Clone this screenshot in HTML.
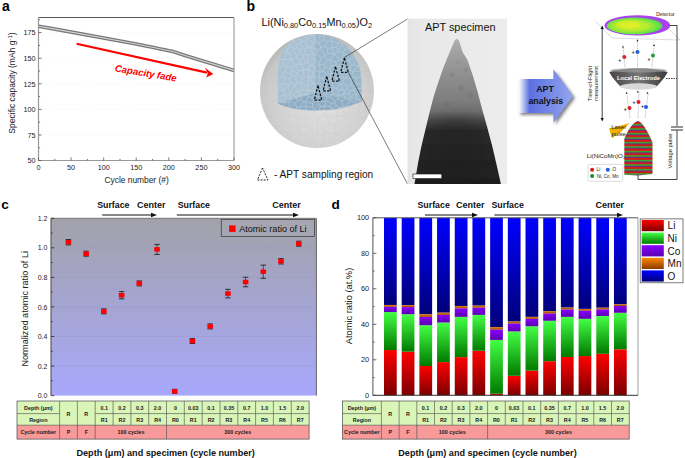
<!DOCTYPE html>
<html><head><meta charset="utf-8"><style>
html,body{margin:0;padding:0;background:#fff;width:685px;height:458px;overflow:hidden}
svg{display:block;font-family:"Liberation Sans", sans-serif}
</style></head><body>
<svg width="685" height="458" viewBox="0 0 685 458" font-family='"Liberation Sans", sans-serif'>
<text x="2" y="10.5" font-size="14" font-weight="bold">a</text>
<line x1="38.5" x2="234.0" y1="135.0" y2="135.0" stroke="#f3f3f3" stroke-width="0.6" stroke-dasharray="1.5,1"/>
<line x1="38.5" x2="234.0" y1="109.4" y2="109.4" stroke="#f3f3f3" stroke-width="0.6" stroke-dasharray="1.5,1"/>
<line x1="38.5" x2="234.0" y1="83.8" y2="83.8" stroke="#f3f3f3" stroke-width="0.6" stroke-dasharray="1.5,1"/>
<line x1="38.5" x2="234.0" y1="58.2" y2="58.2" stroke="#f3f3f3" stroke-width="0.6" stroke-dasharray="1.5,1"/>
<line x1="38.5" x2="234.0" y1="32.6" y2="32.6" stroke="#f3f3f3" stroke-width="0.6" stroke-dasharray="1.5,1"/>
<line x1="38.5" x2="234.0" y1="17.5" y2="17.5" stroke="#555" stroke-width="1"/>
<line x1="234.0" x2="234.0" y1="17.5" y2="160.5" stroke="#aaa" stroke-width="1.3"/>
<line x1="38.5" x2="38.5" y1="17.5" y2="160.5" stroke="#999" stroke-width="1.2"/>
<line x1="38.5" x2="234.0" y1="160.5" y2="160.5" stroke="#999" stroke-width="1.2"/>
<line x1="38.5" x2="41.5" y1="160.6" y2="160.6" stroke="#555" stroke-width="0.8"/>
<text x="35.5" y="163.3" font-size="7.25" text-anchor="end" fill="#222">50</text>
<line x1="38.5" x2="41.5" y1="135.0" y2="135.0" stroke="#555" stroke-width="0.8"/>
<text x="35.5" y="137.7" font-size="7.25" text-anchor="end" fill="#222">75</text>
<line x1="38.5" x2="41.5" y1="109.4" y2="109.4" stroke="#555" stroke-width="0.8"/>
<text x="35.5" y="112.1" font-size="7.25" text-anchor="end" fill="#222">100</text>
<line x1="38.5" x2="41.5" y1="83.8" y2="83.8" stroke="#555" stroke-width="0.8"/>
<text x="35.5" y="86.5" font-size="7.25" text-anchor="end" fill="#222">125</text>
<line x1="38.5" x2="41.5" y1="58.2" y2="58.2" stroke="#555" stroke-width="0.8"/>
<text x="35.5" y="60.9" font-size="7.25" text-anchor="end" fill="#222">150</text>
<line x1="38.5" x2="41.5" y1="32.6" y2="32.6" stroke="#555" stroke-width="0.8"/>
<text x="35.5" y="35.3" font-size="7.25" text-anchor="end" fill="#222">175</text>
<line x1="38.5" x2="40.1" y1="147.8" y2="147.8" stroke="#555" stroke-width="0.8"/>
<line x1="38.5" x2="40.1" y1="122.2" y2="122.2" stroke="#555" stroke-width="0.8"/>
<line x1="38.5" x2="40.1" y1="96.6" y2="96.6" stroke="#555" stroke-width="0.8"/>
<line x1="38.5" x2="40.1" y1="71.0" y2="71.0" stroke="#555" stroke-width="0.8"/>
<line x1="38.5" x2="40.1" y1="45.4" y2="45.4" stroke="#555" stroke-width="0.8"/>
<line x1="38.5" x2="40.1" y1="19.8" y2="19.8" stroke="#555" stroke-width="0.8"/>
<line x1="38.5" x2="38.5" y1="160.5" y2="157.5" stroke="#555" stroke-width="0.8"/>
<text x="38.5" y="170.1" font-size="7.25" text-anchor="middle" fill="#222">0</text>
<line x1="71.1" x2="71.1" y1="160.5" y2="157.5" stroke="#555" stroke-width="0.8"/>
<text x="71.1" y="170.1" font-size="7.25" text-anchor="middle" fill="#222">50</text>
<line x1="103.7" x2="103.7" y1="160.5" y2="157.5" stroke="#555" stroke-width="0.8"/>
<text x="103.7" y="170.1" font-size="7.25" text-anchor="middle" fill="#222">100</text>
<line x1="136.2" x2="136.2" y1="160.5" y2="157.5" stroke="#555" stroke-width="0.8"/>
<text x="136.2" y="170.1" font-size="7.25" text-anchor="middle" fill="#222">150</text>
<line x1="168.8" x2="168.8" y1="160.5" y2="157.5" stroke="#555" stroke-width="0.8"/>
<text x="168.8" y="170.1" font-size="7.25" text-anchor="middle" fill="#222">200</text>
<line x1="201.4" x2="201.4" y1="160.5" y2="157.5" stroke="#555" stroke-width="0.8"/>
<text x="201.4" y="170.1" font-size="7.25" text-anchor="middle" fill="#222">250</text>
<line x1="234.0" x2="234.0" y1="160.5" y2="157.5" stroke="#555" stroke-width="0.8"/>
<text x="234.0" y="170.1" font-size="7.25" text-anchor="middle" fill="#222">300</text>
<line x1="54.8" x2="54.8" y1="160.5" y2="158.9" stroke="#555" stroke-width="0.8"/>
<line x1="87.4" x2="87.4" y1="160.5" y2="158.9" stroke="#555" stroke-width="0.8"/>
<line x1="120.0" x2="120.0" y1="160.5" y2="158.9" stroke="#555" stroke-width="0.8"/>
<line x1="152.5" x2="152.5" y1="160.5" y2="158.9" stroke="#555" stroke-width="0.8"/>
<line x1="185.1" x2="185.1" y1="160.5" y2="158.9" stroke="#555" stroke-width="0.8"/>
<line x1="217.7" x2="217.7" y1="160.5" y2="158.9" stroke="#555" stroke-width="0.8"/>
<text x="136.6" y="183.0" font-size="8.4" text-anchor="middle" fill="#222">Cycle number (#)</text>
<text transform="translate(14.6,83) rotate(-90)" font-size="8.5" text-anchor="middle" fill="#222">Specific capacity (mAh g<tspan dy="-3" font-size="6">-1</tspan><tspan dy="3">)</tspan></text>
<path d="M38.5,26.2 C75,32.6 115,39.8 135,43.7 C150,46.8 160,48.8 170,51.0 L171.5,51.1 L185,55.5 L234,70.4" fill="none" stroke="#787878" stroke-width="3.7"/>
<path d="M38.5,26.2 C75,32.6 115,39.8 135,43.7 C150,46.8 160,48.8 170,51.0 L171.5,51.1 L185,55.5 L234,70.4" fill="none" stroke="#d4d4d4" stroke-width="1.1"/>
<line x1="76.6" y1="43.8" x2="207" y2="72.6" stroke="#f00" stroke-width="2.1"/>
<path d="M213.3,73.9 L206.3,77.6 L207.8,73.0 L204.8,67.8 Z" fill="#f00"/>
<text transform="translate(114.5,71.3) rotate(9.5)" font-size="9.6" font-weight="bold" font-style="italic" fill="#f00">Capacity fade</text>
<text x="246.5" y="10.5" font-size="14" font-weight="bold">b</text>
<text x="261.5" y="26.2" font-size="10.85" fill="#111">Li(Ni<tspan dy="2.2" font-size="7.4">0.80</tspan><tspan dy="-2.2">Co</tspan><tspan dy="2.2" font-size="7.4">0.15</tspan><tspan dy="-2.2">Mn</tspan><tspan dy="2.2" font-size="7.4">0.05</tspan><tspan dy="-2.2">)O</tspan><tspan dy="2.2" font-size="7.4">2</tspan></text>
<defs><radialGradient id="sph" cx="0.53" cy="0.62" r="0.6"><stop offset="0" stop-color="#e0e0e0"/><stop offset="0.6" stop-color="#d3d3d3"/><stop offset="0.88" stop-color="#c8c8c8"/><stop offset="1" stop-color="#bababa"/></radialGradient><linearGradient id="bl1" x1="0" y1="0" x2="1" y2="0"><stop offset="0" stop-color="#9fb9cc"/><stop offset="1" stop-color="#a9c0d1"/></linearGradient><linearGradient id="bl2" x1="0" y1="0" x2="1" y2="0"><stop offset="0" stop-color="#8eabc2"/><stop offset="1" stop-color="#86a6bf"/></linearGradient></defs>
<circle cx="317" cy="91" r="57" fill="url(#sph)"/>
<defs><clipPath id="sphc"><circle cx="317" cy="91" r="56.5"/></clipPath><clipPath id="bluc"><path d="M315,34.5 C300,35 288,41 283,50 C279,58 277.8,70 277.6,80 L277.6,103.6 L315,93 Z"/><path d="M315,34.5 C328,34.8 340,40 347,47 C354,54 358.5,62 360.5,72 C361.8,82 362,92 362,101 L315,93 Z"/><path d="M277.6,103.6 L315,93 L362,101 C350,107.5 332,110.8 314,110.5 C298,110.2 286,107.8 277.6,103.6 Z"/></clipPath></defs>
<path d="M257.9,82.4L245.6,78.1M257.9,82.4L256.8,75.5M255.8,89.6L258.2,82.9M258.2,82.9L257.9,82.4M258.2,82.9L265.9,80.9M265.9,80.9L264.3,72.4M264.3,72.4L256.8,75.5M253.8,65.6L264.4,66.9M264.4,66.9L264.9,70.9M264.9,70.9L264.3,72.4M332.1,54.3L332.5,63.1M332.1,54.3L332.9,53.8M342.2,61.5L332.5,63.1M342.2,61.5L343.5,59.1M332.9,53.8L343.5,59.1M336.7,115.5L337.0,116.2M336.7,115.5L337.2,109.5M346.7,116.6L337.0,116.2M346.7,116.6L340.1,107.8M337.2,109.5L340.1,107.8M325.1,114.8L326.8,107.1M325.1,114.8L327.4,116.8M326.8,107.1L331.0,107.5M336.7,115.5L327.4,116.8M337.2,109.5L331.0,107.5M309.1,51.8L309.5,51.8M309.1,51.8L305.4,56.0M309.5,51.8L317.9,57.1M305.4,56.0L308.9,63.8M308.9,63.8L317.8,61.1M317.9,57.1L317.8,61.1M325.1,65.6L325.1,65.6M325.1,65.6L331.8,64.1M332.1,54.3L326.5,52.9M331.8,64.1L332.5,63.1M326.5,52.9L325.1,65.6M308.4,71.9L308.6,64.3M308.4,71.9L308.4,71.9M315.4,72.2L308.4,71.9M315.4,72.2L320.3,63.9M308.6,64.3L308.9,63.8M317.8,61.1L320.3,63.9M317.5,46.0L323.5,44.9M317.5,46.0L318.3,56.5M325.5,52.4L318.3,56.5M325.5,52.4L324.4,46.7M324.4,46.7L323.5,44.9M309.5,51.8L315.4,45.5M315.4,45.5L317.5,46.0M317.9,57.1L318.3,56.5M326.5,52.9L325.5,52.4M320.3,63.9L325.1,65.6M265.9,80.9L266.3,81.1M275.3,74.1L273.2,82.3M275.3,74.1L264.9,70.9M266.3,81.1L273.2,82.3M308.4,71.9L299.8,74.5M308.4,71.9L311.2,82.0M311.2,82.0L305.0,84.2M305.0,84.2L300.2,84.4M299.0,75.6L299.8,74.5M299.0,75.6L298.7,81.9M298.7,81.9L300.2,84.4M348.2,58.5L344.2,58.5M348.2,58.5L354.0,66.4M342.2,61.5L344.0,67.5M354.0,66.4L352.1,68.2M343.5,59.1L344.2,58.5M352.1,68.2L344.0,67.5M379.6,84.3L375.2,92.0M378.5,96.6L375.2,92.0M378.7,98.2L375.0,102.8M375.7,107.2L375.0,102.8M375.7,107.2L367.9,111.0M367.9,111.0L369.5,114.2M369.5,114.2L377.3,116.8M334.3,38.3L328.9,38.4M334.3,38.3L334.6,35.3M325.3,27.4L328.9,38.4M331.1,27.5L334.6,35.3M315.4,72.2L318.0,75.2M311.2,82.0L314.8,83.4M318.0,75.2L314.8,83.4M333.8,98.1L327.2,100.4M333.8,98.1L333.2,91.3M327.2,100.4L327.9,92.4M327.9,92.4L333.2,91.3M325.1,114.8L317.2,118.3M329.4,123.1L327.4,116.8M329.4,123.1L324.6,126.3M317.2,118.3L317.3,121.8M317.3,121.8L324.6,126.3M327.2,100.4L325.0,103.2M318.0,89.7L320.6,100.1M318.0,89.7L323.9,89.7M327.9,92.4L323.9,89.7M320.6,100.1L325.0,103.2M326.8,107.1L325.5,105.1M333.8,98.1L336.0,99.2M331.0,107.5L336.0,99.2M325.0,103.2L325.5,105.1M311.1,92.3L302.5,92.0M311.1,92.3L312.0,92.7M312.0,92.7L309.6,100.0M309.6,100.0L301.5,96.9M301.5,96.9L302.5,92.0M305.0,84.2L311.1,92.3M300.2,84.4L300.1,85.4M300.1,85.4L302.5,92.0M317.8,89.6L312.0,92.7M317.8,89.6L317.1,86.4M314.8,83.4L317.1,86.4M297.9,99.5L301.5,96.9M297.9,99.5L293.3,99.0M300.1,85.4L292.0,92.8M292.0,92.8L293.3,99.0M264.4,66.9L265.7,64.6M262.6,55.4L265.9,64.2M265.7,64.6L265.9,64.2M309.1,51.8L304.3,44.8M305.4,56.0L298.9,56.1M296.8,46.6L304.3,44.8M296.8,46.6L296.4,47.1M298.9,56.1L296.4,47.1M275.3,74.1L278.7,71.7M265.7,64.6L279.0,69.8M278.7,71.7L279.0,69.8M265.9,64.2L272.4,60.9M272.4,60.9L281.1,65.7M279.0,69.8L281.1,65.7M291.5,56.8L298.1,57.1M291.5,56.8L286.0,64.2M298.1,57.1L297.3,64.3M286.0,64.2L288.2,65.6M288.2,65.6L296.8,65.1M297.3,64.3L296.8,65.1M308.6,64.3L297.3,64.3M298.9,56.1L298.1,57.1M299.8,74.5L296.8,65.1M309.1,33.0L317.3,28.5M309.1,33.0L311.0,37.6M311.0,37.6L311.1,37.6M311.1,37.6L318.8,35.5M318.8,35.5L320.0,30.9M307.8,31.0L309.1,33.0M315.4,45.5L311.1,37.6M304.3,44.8L306.3,41.0M306.3,41.0L311.0,37.6M323.5,44.9L325.3,40.1M325.3,40.1L318.8,35.5M328.9,38.4L325.3,40.1M296.8,46.6L296.0,41.0M306.3,41.0L299.8,36.9M296.0,41.0L299.8,36.9M299.8,36.9L299.4,31.0M283.7,63.9L286.0,64.2M283.7,63.9L282.3,57.3M291.5,56.8L287.7,51.8M282.3,57.3L287.7,51.8M296.4,47.1L294.4,47.3M294.4,47.3L287.9,50.5M287.7,51.8L287.9,50.5M334.3,38.3L335.6,39.4M324.4,46.7L336.3,47.1M335.6,39.4L336.3,47.1M332.9,53.8L336.7,48.3M344.2,58.5L342.9,50.3M342.9,50.3L336.7,48.3M336.7,48.3L336.3,47.1M352.6,141.1L352.7,133.8M352.7,133.8L361.4,133.0M329.4,123.1L334.9,125.2M337.0,116.2L337.3,122.8M334.9,125.2L337.3,122.8M267.7,106.2L260.1,101.3M267.7,106.2L272.9,102.5M272.9,102.5L273.1,100.9M273.1,100.9L264.9,93.9M260.1,101.3L263.1,94.0M264.9,93.9L264.1,93.8M263.1,94.0L264.1,93.8M265.7,110.4L255.9,108.9M265.7,110.4L267.7,106.2M256.6,104.2L260.1,101.3M256.2,90.3L263.1,94.0M266.3,81.1L264.1,93.8M324.5,144.0L315.6,147.0M324.5,144.0L327.9,150.1M315.6,147.0L318.2,152.0M335.1,145.1L340.6,145.0M335.1,145.1L332.6,140.2M340.6,145.0L343.0,139.9M332.6,140.2L334.6,133.5M342.6,137.8L338.3,133.9M342.6,137.8L343.0,139.9M338.3,133.9L335.5,132.9M334.6,133.5L335.5,132.9M342.7,149.8L340.6,145.0M329.9,151.3L335.1,145.1M324.5,144.0L324.7,142.9M324.7,142.9L332.6,140.2M349.5,142.4L343.0,139.9M324.6,133.2L322.1,135.3M324.6,133.2L334.6,133.5M322.1,135.3L324.7,142.9M352.7,133.8L350.9,132.5M350.9,132.5L342.6,137.8M324.6,126.3L324.6,133.2M334.9,125.2L335.5,132.9M273.9,91.1L271.7,89.1M273.9,91.1L280.9,91.3M271.7,89.1L273.7,83.1M273.7,83.1L278.6,84.4M278.6,84.4L280.9,91.3M274.8,99.7L273.1,100.9M274.8,99.7L273.9,91.1M264.9,93.9L271.7,89.1M274.8,99.7L280.7,97.2M280.7,97.2L281.7,92.4M281.7,92.4L280.9,91.3M273.2,82.3L273.7,83.1M352.1,68.2L351.4,78.2M344.0,67.5L342.2,70.2M342.2,70.2L351.4,78.2M331.8,64.1L337.1,73.7M342.2,70.2L337.1,73.7M361.0,72.9L361.4,83.0M361.0,72.9L351.5,78.7M351.5,78.7L351.3,79.8M360.4,83.6L361.4,83.0M360.4,83.6L351.6,80.1M351.6,80.1L351.3,79.8M336.7,75.2L348.9,80.5M336.7,75.2L337.1,73.7M348.9,80.5L351.3,79.8M351.4,78.2L351.5,78.7M371.2,91.1L369.1,92.3M371.2,91.1L367.9,81.6M367.9,81.6L361.4,83.0M369.1,92.3L360.3,88.2M360.3,88.2L360.4,83.6M351.9,91.5L357.5,93.2M351.9,91.5L351.6,80.1M357.5,93.2L360.3,88.2M343.3,92.9L345.0,84.6M343.3,92.9L344.1,94.3M345.0,84.6L348.9,80.5M351.9,91.5L347.1,93.7M344.1,94.3L347.1,93.7M368.4,71.4L369.6,79.6M368.4,71.4L379.4,73.5M369.6,79.6L376.8,80.4M375.2,92.0L371.2,91.1M367.9,81.6L369.6,79.6M368.1,70.7L359.8,61.0M368.1,70.7L368.1,70.9M368.1,70.9L361.4,72.4M361.4,72.4L354.4,66.3M359.8,61.0L354.4,66.3M359.9,61.0L363.4,58.4M359.9,61.0L359.8,61.0M373.5,63.5L368.1,70.7M363.4,58.4L371.2,58.9M368.4,71.4L368.1,70.9M361.0,72.9L361.4,72.4M354.0,66.4L354.4,66.3M348.2,58.5L353.8,53.7M353.8,53.7L359.9,61.0M366.0,109.8L366.0,102.1M366.0,109.8L359.2,113.5M358.8,112.3L359.2,113.5M358.8,112.3L358.8,100.6M366.0,102.1L363.6,100.0M363.6,100.0L359.9,99.6M358.8,100.6L359.9,99.6M375.0,102.8L366.0,102.1M367.9,111.0L366.0,109.8M369.1,92.3L363.6,100.0M357.5,93.2L359.9,99.6M347.1,93.7L356.2,101.3M356.2,101.3L358.8,100.6M377.6,121.6L367.5,123.2M365.6,128.2L367.5,123.2M369.5,114.2L365.0,119.7M367.5,123.2L365.0,119.7M334.6,35.3L340.2,26.2M325.0,74.8L324.2,75.3M325.0,74.8L334.3,78.0M324.2,75.3L323.2,80.8M323.2,80.8L328.3,84.2M328.3,84.2L334.0,82.2M334.3,78.0L334.1,82.1M334.1,82.1L334.0,82.2M325.1,65.6L325.0,74.8M318.0,75.2L324.2,75.3M336.7,75.2L334.3,78.0M317.1,86.4L323.2,80.8M317.8,89.6L318.0,89.7M323.9,89.7L328.3,84.2M333.2,91.3L335.3,89.2M335.3,89.2L334.0,82.2M345.0,84.6L334.1,82.1M343.3,92.9L335.3,89.2M317.0,122.2L317.5,134.8M317.0,122.2L309.1,127.1M310.2,130.7L317.1,135.0M310.2,130.7L309.1,127.1M317.1,135.0L317.5,134.8M317.3,121.8L317.0,122.2M322.1,135.3L317.5,134.8M314.2,115.7L317.2,118.3M314.2,115.7L307.0,116.5M307.0,116.5L305.8,117.8M306.2,125.7L305.8,117.8M306.2,125.7L309.1,127.1M306.1,135.2L308.4,139.9M306.1,135.2L310.2,130.7M308.4,139.9L312.9,140.5M312.9,140.5L317.1,135.0M312.9,140.5L314.9,146.7M315.6,147.0L314.9,146.7M306.1,135.2L300.8,133.9M306.2,125.7L298.6,128.7M300.8,133.9L298.6,131.1M298.6,131.1L298.6,128.7M298.5,118.2L305.8,117.8M298.5,118.2L297.4,127.3M298.6,128.7L297.4,127.3M300.8,133.9L300.2,141.0M289.7,139.0L291.3,141.0M289.7,139.0L289.8,138.1M289.8,138.1L298.6,131.1M291.3,141.0L300.2,141.0M279.2,143.5L289.7,139.0M291.3,141.0L293.1,149.7M308.4,139.9L303.1,144.3M300.2,141.0L303.1,144.3M280.7,97.2L285.3,100.7M276.4,107.9L281.0,109.7M276.4,107.9L272.9,102.5M281.0,109.7L282.5,109.4M282.5,109.4L285.3,100.7M281.7,92.4L288.0,90.0M288.0,90.0L292.0,92.8M293.3,99.0L291.5,100.4M291.5,100.4L285.3,100.7M275.6,124.9L265.3,127.4M275.6,124.9L273.3,118.9M273.3,118.9L270.8,116.5M264.2,126.8L265.9,117.2M270.8,116.5L267.8,115.8M267.8,115.8L265.9,117.2M276.4,107.9L270.8,116.5M281.0,109.7L279.5,115.0M279.5,115.0L273.3,118.9M255.4,118.1L265.9,117.2M265.7,110.4L267.8,115.8M314.3,111.1L314.7,109.8M314.3,111.1L304.5,107.3M314.7,109.8L312.4,102.7M304.5,107.3L310.2,101.7M310.2,101.7L312.4,102.7M314.2,115.7L314.3,111.1M325.5,105.1L314.7,109.8M307.0,116.5L303.3,108.0M303.3,108.0L304.5,107.3M320.6,100.1L312.4,102.7M297.9,99.5L302.0,107.7M302.0,107.7L303.3,108.0M309.6,100.0L310.2,101.7M290.5,73.8L289.7,73.3M290.5,73.8L289.0,83.0M289.7,73.3L283.5,76.4M283.5,76.4L284.0,81.1M284.0,81.1L288.4,83.3M289.0,83.0L288.4,83.3M299.0,75.6L290.5,73.8M288.2,65.6L289.7,73.3M298.7,81.9L289.0,83.0M278.7,71.7L283.5,76.4M281.1,65.7L283.7,63.9M278.6,84.4L284.0,81.1M288.0,90.0L288.4,83.3M292.3,37.6L293.4,31.3M292.3,37.6L286.3,40.1M286.3,40.1L282.6,39.9M296.0,41.0L292.3,37.6M294.4,47.3L286.3,40.1M283.5,46.6L287.9,50.5M283.5,46.6L282.6,39.9M282.4,47.5L279.5,55.3M282.4,47.5L274.0,50.1M279.5,55.3L274.5,53.9M274.0,50.1L274.4,53.6M274.4,53.6L274.5,53.9M283.5,46.6L282.4,47.5M282.3,57.3L279.5,55.3M273.5,49.2L274.0,50.1M272.4,60.9L274.5,53.9M262.6,55.4L274.4,53.6M362.1,130.7L356.3,123.6M365.0,119.7L360.6,117.8M356.3,123.6L360.6,117.8M359.2,113.5L359.2,113.6M359.2,113.6L360.6,117.8M349.4,127.5L351.5,123.9M349.4,127.5L345.7,127.5M345.7,127.5L340.6,122.9M351.5,123.9L348.2,117.4M340.6,122.9L348.1,117.4M348.1,117.4L348.2,117.4M350.9,132.5L349.4,127.5M356.3,123.6L351.5,123.9M338.3,133.9L345.7,127.5M337.3,122.8L340.6,122.9M349.9,115.3L359.2,113.6M349.9,115.3L348.2,117.4M346.7,116.6L348.1,117.4M340.8,99.9L340.4,107.3M340.8,99.9L343.6,96.6M343.6,96.6L351.5,103.8M340.4,107.3L349.2,107.6M349.2,107.6L350.6,106.2M350.6,106.2L351.5,103.8M340.1,107.8L340.4,107.3M336.0,99.2L340.8,99.9M344.1,94.3L343.6,96.6M356.2,101.3L351.5,103.8M349.9,115.3L349.2,107.6M358.8,112.3L350.6,106.2M363.4,58.4L363.1,48.0M353.8,53.7L354.2,47.3M354.2,47.3L360.3,46.5M294.7,150.1L303.1,144.4M303.1,144.4L307.8,151.3M303.1,144.3L303.1,144.4M314.9,146.7L307.8,151.3M289.6,115.9L288.2,112.5M289.6,115.9L296.3,115.9M288.2,112.5L291.8,107.0M291.8,107.0L299.1,109.6M299.1,109.6L296.3,115.9M282.5,109.4L288.2,112.5M291.5,100.4L291.8,107.0M302.0,107.7L299.1,109.6M298.5,118.2L296.3,115.9M279.5,115.0L284.9,121.0M276.8,125.8L278.5,126.0M276.8,125.8L275.6,124.9M278.5,126.0L284.9,121.0M268.9,135.4L274.3,131.2M274.3,131.2L278.2,140.2M276.8,125.8L274.3,131.2M278.5,126.0L282.0,130.3M282.0,130.3L278.2,140.2M289.8,138.1L286.5,132.2M286.5,132.2L282.0,130.3M350.9,39.1L353.1,46.5M353.1,46.5L345.9,48.4M345.9,48.4L341.3,38.4M341.3,38.4L345.4,36.5M354.2,47.3L353.1,46.5M342.9,50.3L345.9,48.4M335.6,39.4L341.3,38.4M288.2,118.6L285.4,120.8M288.2,118.6L295.2,126.7M285.4,120.8L289.4,128.4M295.2,126.7L289.4,128.4M289.6,115.9L288.2,118.6M284.9,121.0L285.4,120.8M297.4,127.3L295.2,126.7M286.5,132.2L289.4,128.4" fill="none" stroke="#c2c2c2" stroke-width="0.4" opacity="0.6" clip-path="url(#sphc)"/>
<path d="M315,34.5 C300,35 288,41 283,50 C279,58 277.8,70 277.6,80 L277.6,103.6 L315,93 Z" fill="#a9c1d2"/>
<path d="M315,34.5 C328,34.8 340,40 347,47 C354,54 358.5,62 360.5,72 C361.8,82 362,92 362,101 L315,93 Z" fill="#9ab7cb"/>
<path d="M277.6,103.6 L315,93 L362,101 C350,107.5 332,110.8 314,110.5 C298,110.2 286,107.8 277.6,103.6 Z" fill="#8eadc4"/>
<path d="M292.0,59.3L296.0,57.1M292.0,59.3L295.3,65.4M296.0,57.1L299.7,60.3M295.3,65.4L296.0,65.5M299.7,60.3L299.9,63.7M296.0,65.5L299.9,63.7M297.0,54.8L293.9,51.4M297.0,54.8L296.0,57.1M292.0,59.3L291.9,59.2M293.9,51.4L289.0,53.2M289.0,53.2L291.9,59.2M275.7,65.1L270.5,63.9M275.7,65.1L277.8,59.2M272.2,60.6L277.8,59.2M281.2,38.1L282.2,43.5M282.2,43.5L277.6,45.0M343.2,52.3L344.9,49.8M343.2,52.3L338.2,51.5M338.2,51.5L338.1,50.5M338.1,50.5L342.2,44.6M342.2,44.6L344.9,49.8M338.3,43.2L332.5,41.5M338.3,43.2L336.7,47.3M336.7,47.3L331.5,47.5M332.5,41.5L331.5,47.5M340.5,42.5L338.3,43.2M340.5,42.5L341.6,42.5M341.6,42.5L342.2,44.6M338.1,50.5L336.7,47.3M303.3,69.8L302.2,64.4M303.3,69.8L303.1,70.1M296.0,65.5L298.4,70.8M302.2,64.4L299.9,63.7M303.1,70.1L298.4,70.8M270.8,81.4L274.3,84.3M272.9,88.4L274.3,84.3M268.0,66.2L273.7,70.1M273.7,70.1L265.0,74.5M275.7,65.1L277.4,68.4M277.4,68.4L275.2,70.6M275.2,70.6L273.7,70.1M275.1,73.8L277.7,77.5M275.1,73.8L268.4,76.0M277.7,77.5L270.8,79.5M275.2,70.6L275.1,73.8M277.8,77.5L277.7,77.5M277.8,77.5L277.7,82.5M274.3,84.3L277.7,82.5M278.2,68.4L283.1,73.5M278.2,68.4L283.5,64.6M283.5,64.6L286.3,66.3M284.7,71.9L283.1,73.5M284.7,71.9L286.5,66.6M286.3,66.3L286.5,66.6M277.8,77.5L282.7,75.8M277.4,68.4L278.2,68.4M282.7,75.8L283.1,73.5M282.3,60.2L283.5,64.6M282.3,60.2L278.6,58.4M277.8,59.2L278.6,58.4M282.3,60.2L283.3,59.5M283.3,59.5L291.4,59.4M291.4,59.4L286.3,66.3M295.3,65.4L291.3,68.3M291.3,68.3L286.5,66.6M291.9,59.2L291.4,59.4M291.3,68.3L291.5,70.3M298.4,70.8L297.5,72.8M297.5,72.8L291.5,70.3M284.7,71.9L290.7,73.5M291.5,70.3L290.7,73.5M285.0,77.9L289.8,78.5M285.0,77.9L282.7,75.8M290.7,73.5L291.2,76.1M289.8,78.5L291.2,76.1M283.3,83.5L288.9,85.1M283.3,83.5L285.0,77.9M288.9,85.1L291.7,83.4M289.8,78.5L291.7,83.4M297.5,74.6L297.5,72.8M297.5,74.6L295.3,75.7M295.3,75.7L291.2,76.1M278.6,58.4L277.8,56.0M277.8,56.0L274.9,54.4M349.4,48.8L344.9,49.8M349.4,48.8L352.1,52.2M343.2,52.3L343.6,54.0M343.6,54.0L347.6,55.6M347.6,55.6L352.1,52.2M281.2,38.1L287.2,37.0M282.2,43.5L282.8,43.8M282.8,43.8L289.4,42.4M289.4,42.4L290.2,41.1M290.2,41.1L287.2,37.0M287.2,37.0L287.2,35.0M319.5,36.8L323.7,35.7M319.5,36.8L318.1,42.7M318.1,42.7L318.9,43.2M318.9,43.2L323.8,39.5M323.7,35.7L323.8,39.5M323.3,30.4L324.2,34.6M323.3,30.4L320.8,30.0M320.8,30.0L317.0,34.4M317.0,34.4L319.5,36.8M324.2,34.6L323.7,35.7M317.0,34.4L314.2,35.3M316.0,42.1L314.2,35.3M316.0,42.1L318.1,42.7M319.9,48.9L320.7,47.1M319.9,48.9L324.9,55.3M320.7,47.1L325.3,46.8M324.9,55.3L327.3,52.8M327.3,52.8L327.8,48.4M325.3,46.8L327.8,48.4M327.6,41.5L323.8,39.5M327.6,41.5L325.3,46.8M318.9,43.2L320.7,47.1M331.5,40.1L327.6,41.5M331.5,40.1L332.5,41.5M331.5,47.5L331.2,47.9M331.2,47.9L327.8,48.4M300.8,27.4L302.8,32.6M302.8,32.6L307.9,30.4M306.2,24.5L307.9,30.4M341.6,42.5L343.8,40.7M349.4,48.8L350.2,46.5M350.2,46.5L348.9,42.6M343.8,40.7L348.9,42.6M355.2,41.6L353.5,45.7M355.2,41.6L351.6,40.1M350.2,46.5L353.5,45.7M351.6,40.1L348.9,42.6M340.5,42.5L336.5,35.8M331.5,40.1L331.7,39.0M336.5,35.8L331.7,39.0M341.3,34.1L336.6,35.6M341.3,34.1L344.2,36.0M344.2,36.0L343.8,40.7M336.5,35.8L336.6,35.6M324.2,34.6L330.2,36.5M330.2,36.5L331.7,39.0M299.1,35.9L302.1,34.8M299.1,35.9L300.9,42.6M302.1,34.8L306.6,38.4M300.9,42.6L305.6,41.0M305.6,41.0L306.6,38.4M295.8,116.0L301.6,114.1M301.6,114.1L302.7,112.9M293.7,113.5L296.9,106.6M296.9,106.6L299.2,107.3M302.7,112.9L299.2,107.3M301.6,114.1L303.5,118.8M290.6,101.3L288.9,102.2M290.6,101.3L290.2,94.9M290.2,94.9L289.7,94.5M289.7,94.5L285.5,94.6M285.5,94.6L284.6,102.7M288.9,102.2L284.6,102.7M295.3,103.6L295.3,103.7M295.3,103.6L290.6,101.3M295.3,103.7L289.5,108.6M288.9,102.2L289.5,108.6M296.9,106.6L295.3,103.7M289.2,109.1L289.5,108.6M303.1,70.1L304.3,77.7M297.5,74.6L302.8,78.7M304.3,77.7L302.8,78.7M278.3,88.3L280.7,84.6M278.3,88.3L279.4,91.0M279.4,91.0L283.4,90.4M281.3,84.7L283.5,89.7M281.3,84.7L280.7,84.6M283.4,90.4L283.5,89.7M272.9,88.4L278.3,88.3M277.7,82.5L280.7,84.6M276.1,94.5L279.4,91.0M285.3,94.5L277.8,97.3M285.3,94.5L283.4,90.4M283.3,83.5L281.3,84.7M288.9,85.1L288.1,87.0M288.1,87.0L283.5,89.7M289.9,92.6L289.7,94.5M289.9,92.6L288.1,87.0M285.3,94.5L285.5,94.6M276.7,46.4L280.6,50.7M282.8,43.8L283.1,45.8M283.1,45.8L280.6,50.7M277.8,56.0L280.9,51.6M280.9,51.6L280.6,50.7M361.4,71.5L362.0,70.1M361.4,71.5L360.5,76.6M362.0,70.1L367.1,70.6M367.1,70.6L368.3,72.1M368.3,72.1L366.0,77.5M360.5,76.6L361.6,77.5M361.6,77.5L365.3,78.0M366.0,77.5L365.3,78.0M360.7,66.1L362.0,70.1M360.7,66.1L358.4,66.2M358.4,66.2L352.7,71.2M352.7,71.2L361.4,71.5M353.8,77.0L356.9,77.7M353.8,77.0L352.3,71.4M356.9,77.7L360.5,76.6M352.3,71.4L352.7,71.2M375.0,75.8L366.0,77.5M362.3,84.2L367.7,84.0M362.3,84.2L361.6,77.5M368.4,82.1L365.3,78.0M352.1,52.2L353.8,53.1M353.5,45.7L356.5,47.0M353.8,53.1L356.5,47.0M320.0,64.1L319.4,62.9M320.0,64.1L324.1,64.8M324.7,56.5L327.8,59.8M324.7,56.5L321.9,57.5M321.9,57.5L319.4,62.9M327.8,59.8L324.1,64.8M319.7,64.6L319.9,72.0M319.7,64.6L320.0,64.1M322.8,71.2L319.9,72.0M322.8,71.2L325.2,66.8M325.2,66.8L324.1,64.8M339.0,59.6L335.9,61.8M339.0,59.6L334.8,54.1M335.9,61.8L330.3,60.6M333.9,54.4L334.4,54.1M333.9,54.4L329.8,60.0M329.8,60.0L330.3,60.6M334.8,54.1L334.4,54.1M341.6,60.1L343.0,61.9M341.6,60.1L339.0,59.6M343.0,61.9L342.8,65.3M335.9,65.5L335.9,61.8M335.9,65.5L338.0,67.3M342.8,65.3L338.0,67.3M338.2,51.5L334.8,54.1M343.6,54.0L341.6,60.1M335.9,65.5L331.2,66.4M331.2,66.4L330.3,60.6M331.2,47.9L334.4,54.1M327.3,52.8L333.9,54.4M324.7,56.5L324.9,55.3M327.8,59.8L329.8,60.0M325.2,66.8L330.1,68.7M330.1,68.7L331.2,66.4M355.1,60.1L352.7,58.4M355.1,60.1L353.6,64.9M352.7,58.4L349.2,60.2M353.6,64.9L351.4,65.4M351.4,65.4L349.1,60.4M349.1,60.4L349.2,60.2M360.9,56.2L358.4,53.9M360.9,56.2L361.2,58.1M360.3,60.4L361.2,58.1M360.3,60.4L355.1,60.1M358.4,53.9L353.9,53.3M353.9,53.3L352.7,58.4M360.7,66.1L361.1,64.9M361.1,64.9L360.3,60.4M358.4,66.2L353.6,64.9M347.6,55.6L349.2,60.2M353.8,53.1L353.9,53.3M352.3,71.4L350.2,69.9M350.2,69.9L349.8,68.4M349.8,68.4L351.4,65.4M343.0,61.9L349.1,60.4M342.8,65.3L343.5,66.2M343.5,66.2L349.8,68.4M361.1,64.9L366.0,63.8M367.1,70.6L370.6,66.3M370.6,66.3L366.0,63.8M366.8,51.2L360.9,46.9M360.9,46.9L360.5,46.0M360.9,56.2L366.9,51.2M358.4,53.9L360.9,46.9M355.5,41.6L360.6,45.3M355.5,41.6L358.2,37.0M356.5,47.0L360.5,46.0M355.5,41.6L355.2,41.6M294.8,32.5L299.0,35.9M294.8,32.5L294.6,32.5M294.6,32.5L290.2,41.1M299.0,35.9L293.9,41.4M293.9,41.4L290.2,41.1M302.8,32.6L302.1,34.8M296.0,30.3L294.8,32.5M299.1,35.9L299.0,35.9M291.1,31.3L294.6,32.5M290.2,41.1L290.2,41.1M300.1,43.7L297.2,44.2M300.1,43.7L300.9,42.6M297.2,44.2L293.9,41.4M297.2,44.2L296.3,48.0M296.3,48.0L294.6,49.0M294.6,49.0L289.6,45.7M289.4,42.4L289.6,45.7M321.2,23.1L317.9,26.2M314.9,22.1L317.9,26.2M308.0,30.5L312.7,29.4M308.0,30.5L309.8,35.9M309.8,35.9L314.0,35.2M314.0,35.2L313.2,29.7M313.2,29.7L312.7,29.4M307.9,30.4L308.0,30.5M311.4,24.6L312.7,29.4M307.7,38.1L306.6,38.4M307.7,38.1L309.8,35.9M316.0,42.1L313.3,43.1M314.2,35.3L314.0,35.2M313.3,43.1L307.7,38.1M320.8,30.0L318.2,27.8M318.2,27.8L313.2,29.7M317.9,26.2L318.2,27.8M356.9,36.3L351.8,36.4M351.8,36.4L349.0,32.9M351.6,40.1L351.8,36.4M344.2,36.0L349.0,32.9M344.4,27.4L340.6,30.9M341.3,34.1L340.6,30.9M323.3,30.4L325.4,28.7M330.2,36.5L331.5,30.4M331.5,30.4L325.4,28.7M321.2,23.1L325.5,27.9M327.2,23.4L325.5,27.9M325.4,28.7L325.5,27.9M319.7,64.6L314.4,67.6M314.4,67.6L311.2,65.5M319.4,62.9L316.1,61.1M316.1,61.1L311.2,65.5M310.4,46.8L310.0,47.1M310.4,46.8L318.6,49.9M310.0,47.1L312.8,54.3M318.6,49.9L315.6,54.6M312.8,54.3L314.4,55.2M315.6,54.6L314.4,55.2M313.3,43.1L310.4,46.8M305.6,41.0L307.7,47.0M307.7,47.0L310.0,47.1M319.9,48.9L318.6,49.9M321.9,57.5L315.6,54.6M316.1,61.1L314.2,57.0M314.2,57.0L314.4,55.2M300.1,43.7L303.0,47.7M296.3,48.0L299.7,50.1M303.0,47.7L299.7,50.1M307.7,47.0L305.7,48.4M303.0,47.7L305.7,48.4M297.0,54.8L299.6,53.7M293.9,51.4L294.6,49.0M299.7,50.1L299.6,53.7M325.0,111.8L323.0,119.3M325.0,111.8L330.0,113.1M323.0,119.3L331.0,118.5M330.0,113.1L331.0,118.5M329.7,128.2L322.4,119.9M331.4,119.3L331.0,118.5M322.4,119.9L323.0,119.3M339.1,115.3L335.3,111.8M339.1,115.3L338.2,118.6M330.6,112.7L335.3,111.8M330.6,112.7L330.0,113.1M330.6,112.7L331.0,109.5M335.3,111.8L338.4,107.4M338.4,107.4L336.2,105.2M331.0,109.5L336.2,105.2M295.3,103.6L297.5,100.7M303.6,101.2L300.6,99.8M303.6,101.2L299.7,107.0M299.2,107.3L299.7,107.0M300.6,99.8L297.5,100.7M290.2,94.9L293.2,94.7M293.2,94.7L295.6,96.6M297.5,100.7L295.6,96.6M289.9,92.6L294.7,86.1M293.2,94.7L296.9,90.7M296.9,90.7L294.7,86.1M295.3,75.7L296.7,83.5M302.8,78.7L301.3,82.4M301.3,82.4L296.7,83.5M291.7,83.4L294.5,84.5M296.7,83.5L294.5,84.5M294.7,86.1L294.5,84.5M307.8,90.5L301.3,89.8M307.8,90.5L307.3,94.2M307.3,94.2L301.2,94.8M301.3,89.8L299.5,91.6M299.5,91.6L300.4,94.0M301.2,94.8L300.4,94.0M307.9,90.4L307.5,86.9M307.9,90.4L307.8,90.5M307.5,86.9L301.3,82.4M301.3,82.4L301.3,89.8M296.9,90.7L299.5,91.6M301.3,82.4L301.3,82.4M295.6,96.6L300.4,94.0M300.6,99.8L301.2,94.8M284.6,102.7L284.0,103.2M284.0,103.2L277.7,98.2M303.3,69.8L308.2,69.2M304.3,77.7L308.5,77.3M308.5,77.3L308.2,69.2M287.8,49.3L283.5,46.3M287.8,49.3L287.3,52.3M283.5,46.3L284.2,51.7M284.2,51.7L287.3,52.3M287.3,52.3L287.3,52.3M289.6,45.7L287.8,49.3M283.1,45.8L283.5,46.3M289.0,53.2L287.3,52.3M280.9,51.6L284.2,51.7M283.3,59.5L287.3,52.3M341.9,83.5L342.4,89.7M341.9,83.5L339.1,84.1M339.1,84.1L336.8,88.3M342.4,89.7L337.8,89.8M337.8,89.8L336.8,88.3M343.3,82.6L341.9,83.5M343.3,82.6L347.3,85.6M344.0,91.1L346.6,88.8M344.0,91.1L342.4,89.7M347.3,85.6L346.6,88.8M351.1,78.6L351.1,84.9M351.1,78.6L353.8,77.0M356.9,77.7L356.4,83.3M351.1,84.9L353.4,86.3M356.4,83.3L353.4,86.3M362.3,84.2L361.6,85.2M356.4,83.3L361.6,85.2M341.7,72.6L343.0,70.6M341.7,72.6L342.8,77.1M343.0,70.6L347.7,72.3M347.7,72.3L345.5,77.5M342.8,77.1L344.1,78.1M345.5,77.5L344.1,78.1M337.0,70.8L341.7,72.6M337.0,70.8L338.0,67.3M343.5,66.2L343.0,70.6M337.0,70.8L334.6,72.5M339.6,77.1L334.6,72.5M339.6,77.1L342.8,77.1M350.2,69.9L347.7,72.3M351.1,78.6L345.5,77.5M343.3,82.6L344.1,78.1M351.1,84.9L347.3,85.6M361.2,58.1L367.0,58.6M366.0,63.8L368.2,59.8M334.2,30.4L333.0,29.8M334.2,30.4L338.7,29.6M333.0,29.8L334.0,23.8M338.7,29.6L339.1,24.6M336.6,35.6L334.2,30.4M331.5,30.4L333.0,29.8M340.6,30.9L338.7,29.6M303.1,56.8L306.4,62.6M303.1,56.8L303.3,55.3M303.3,55.3L305.3,54.2M306.4,62.6L308.1,62.8M307.6,55.0L305.3,54.2M307.6,55.0L308.6,62.0M308.1,62.8L308.6,62.0M299.7,60.3L303.1,56.8M302.2,64.4L306.4,62.6M299.6,53.7L303.3,55.3M305.7,48.4L305.3,54.2M310.1,65.4L308.1,62.8M310.1,65.4L308.5,68.9M308.2,69.2L308.5,68.9M312.8,54.3L307.6,55.0M314.2,57.0L308.6,62.0M310.1,65.4L311.2,65.5M335.7,81.4L332.3,81.6M335.7,81.4L337.0,78.9M337.0,78.9L331.8,73.1M332.3,81.6L330.7,80.6M330.7,80.6L330.4,78.4M330.4,78.4L330.9,73.7M330.9,73.7L331.4,73.1M331.4,73.1L331.8,73.1M339.1,84.1L335.7,81.4M336.8,88.3L333.1,88.2M333.1,88.2L332.3,81.6M339.6,77.1L337.0,78.9M334.6,72.5L331.8,73.1M321.6,78.2L326.5,83.5M321.6,78.2L321.9,78.1M321.9,78.1L330.4,78.4M326.5,83.5L330.7,80.6M321.9,78.1L327.2,73.7M327.2,73.7L330.9,73.7M322.8,71.2L327.2,73.7M330.1,68.7L331.4,73.1M324.9,111.8L319.5,112.4M324.9,111.8L324.4,106.5M324.4,106.5L320.6,106.1M320.6,106.1L318.2,112.1M319.5,112.4L318.2,112.1M322.4,119.9L321.0,120.1M325.0,111.8L324.9,111.8M321.0,120.1L319.5,112.4M330.4,106.4L331.6,103.5M330.4,106.4L324.7,105.8M331.6,103.5L326.1,100.8M324.7,105.8L325.2,101.7M325.2,101.7L326.1,100.8M331.0,109.5L330.4,106.4M334.7,102.6L331.6,103.5M334.7,102.6L336.2,105.2M324.4,106.5L324.7,105.8M284.0,103.2L283.5,104.9M307.9,86.5L308.6,77.3M307.9,86.5L312.9,83.5M312.9,83.5L310.3,77.5M308.6,77.3L310.3,77.5M307.5,86.9L307.9,86.5M308.5,77.3L308.6,77.3M313.1,72.3L311.8,76.7M313.1,72.3L315.2,70.3M311.8,76.7L319.3,77.3M315.2,70.3L319.8,72.2M319.8,72.2L319.3,77.3M308.5,68.9L313.1,72.3M310.3,77.5L311.8,76.7M314.4,67.6L315.2,70.3M315.0,84.6L312.9,83.5M315.0,84.6L318.6,82.1M318.6,82.1L319.8,78.0M319.8,78.0L319.3,77.3M319.9,72.0L319.8,72.2M321.6,78.2L319.8,78.0M356.2,105.7L354.6,101.9M354.6,101.9L356.6,100.0M356.6,100.0L360.2,99.2M345.5,98.7L349.9,100.4M345.5,98.7L341.8,101.3M341.8,101.3L342.9,106.2M349.9,100.4L350.0,100.6M350.0,100.6L346.9,106.4M342.9,106.2L346.9,106.4M355.5,107.7L347.7,107.5M348.2,111.1L347.7,107.5M350.0,100.6L354.6,101.9M347.7,107.5L346.9,106.4M353.4,86.3L354.2,88.8M361.6,85.2L361.4,88.5M354.2,88.8L361.4,88.5M362.6,95.3L361.9,94.0M356.6,100.0L355.6,94.0M355.6,94.0L361.9,94.0M369.5,88.6L362.0,89.4M361.9,94.0L362.0,89.4M362.0,89.4L361.4,88.5M307.9,90.4L314.8,90.1M315.0,84.6L315.8,89.4M314.8,90.1L315.8,89.4M318.6,82.1L321.3,84.9M326.5,83.5L325.9,85.3M321.3,84.9L325.9,85.3M315.8,89.4L318.9,90.2M321.3,84.9L318.9,90.2M319.0,96.6L320.0,95.6M319.0,96.6L314.2,95.4M320.0,95.6L319.0,90.3M314.2,95.4L314.8,90.1M318.9,90.2L319.0,90.3M343.5,94.4L344.1,93.5M343.5,94.4L338.3,95.8M344.1,93.5L344.0,91.1M337.8,89.8L337.9,95.3M337.9,95.3L338.3,95.8M343.5,94.4L345.5,98.7M341.8,101.3L337.8,98.8M338.3,95.8L337.8,98.8M338.4,107.4L341.1,107.4M334.7,102.6L335.2,101.2M341.1,107.4L342.9,106.2M337.8,98.8L335.2,101.2M326.7,97.1L326.1,96.1M326.7,97.1L330.1,96.8M326.1,96.1L326.3,89.9M330.1,96.8L333.0,94.0M333.0,94.0L331.7,89.4M331.7,89.4L326.8,89.3M326.8,89.3L326.3,89.9M318.5,101.0L319.0,96.6M318.5,101.0L325.2,101.7M326.1,100.8L326.7,97.1M320.0,95.6L326.1,96.1M335.2,101.2L330.1,96.8M319.0,90.3L326.3,89.9M337.9,95.3L333.0,94.0M333.1,88.2L331.7,89.4M325.9,85.3L326.8,89.3M302.7,112.9L305.3,112.1M299.7,107.0L305.8,106.2M305.3,112.1L306.0,106.6M305.8,106.2L306.0,106.6M303.5,118.8L308.5,118.0M305.3,112.1L308.2,113.4M308.2,113.4L308.5,118.0M320.6,120.3L315.3,116.0M318.2,112.1L315.4,112.1M315.3,116.0L315.4,112.1M341.8,113.9L342.1,113.0M341.8,113.9L347.2,118.6M342.1,113.0L348.1,111.4M339.1,115.3L341.8,113.9M341.1,107.4L342.1,113.0M355.5,93.9L354.0,89.6M355.5,93.9L350.6,96.9M354.0,89.6L350.3,91.5M350.3,91.5L349.2,93.9M350.6,96.9L349.2,93.9M354.2,88.8L354.0,89.6M355.6,94.0L355.5,93.9M349.9,100.4L350.6,96.9M346.6,88.8L350.3,91.5M344.1,93.5L349.2,93.9M303.6,101.2L305.5,101.5M307.3,94.2L308.3,96.5M305.5,101.5L308.3,96.5M305.8,106.2L305.7,101.9M305.5,101.5L305.7,101.9M314.2,95.4L311.9,97.3M308.3,96.5L311.9,97.3M314.2,110.0L312.6,107.3M314.2,110.0L318.6,104.9M312.6,107.3L312.6,103.6M312.6,103.6L314.1,101.4M314.1,101.4L318.0,101.4M318.0,101.4L318.6,104.9M306.0,106.6L312.6,107.3M308.2,113.4L314.3,111.2M314.3,111.2L314.2,110.0M320.6,106.1L318.6,104.9M315.4,112.1L314.3,111.2M305.7,101.9L312.6,103.6M311.9,97.3L314.1,101.4M318.5,101.0L318.0,101.4M309.0,118.8L314.3,117.7M314.3,117.7L315.3,127.8M308.5,118.0L309.0,118.8M315.3,116.0L314.3,117.7" fill="none" stroke="#cddde8" stroke-width="0.55" opacity="0.8" clip-path="url(#bluc)"/>
<line x1="315" y1="34.5" x2="315" y2="93" stroke="#b7cad8" stroke-width="0.5"/>
<path d="M317.9,85.5 L314.29999999999995,100.0 L321.79999999999995,100.0 Z" fill="none" stroke="#111" stroke-width="1.25" stroke-dasharray="2.4,1.4"/>
<path d="M326.7,76.4 L323.09999999999997,90.9 L330.59999999999997,90.9 Z" fill="none" stroke="#111" stroke-width="1.25" stroke-dasharray="2.4,1.4"/>
<path d="M335.5,66.6 L331.9,81.1 L339.4,81.1 Z" fill="none" stroke="#111" stroke-width="1.25" stroke-dasharray="2.4,1.4"/>
<path d="M344.4,57.8 L340.79999999999995,72.3 L348.29999999999995,72.3 Z" fill="none" stroke="#111" stroke-width="1.25" stroke-dasharray="2.4,1.4"/>
<line x1="344.4" y1="57.5" x2="407.5" y2="19" stroke="#222" stroke-width="0.6"/>
<line x1="348.3" y1="72.3" x2="407.5" y2="184" stroke="#222" stroke-width="0.6"/>
<path d="M262.5,168 L257.5,180 L268,180 Z" fill="none" stroke="#111" stroke-width="0.9" stroke-dasharray="2,1.2"/>
<text x="274" y="178" font-size="10.1" fill="#111">- APT sampling region</text>
<defs><linearGradient id="cone" x1="0" y1="0" x2="0" y2="1"><stop offset="0" stop-color="#b0b0b0"/><stop offset="0.1" stop-color="#a0a0a0"/><stop offset="0.28" stop-color="#8c8c8c"/><stop offset="0.42" stop-color="#7e7e7e"/><stop offset="0.5" stop-color="#6c6c6c"/><stop offset="0.56" stop-color="#484848"/><stop offset="0.63" stop-color="#2c2c2c"/><stop offset="1" stop-color="#1e1e1e"/></linearGradient><filter id="blur1"><feGaussianBlur stdDeviation="0.7"/></filter><filter id="blur3" x="-50%" y="-50%" width="200%" height="200%"><feGaussianBlur stdDeviation="6"/></filter></defs>
<defs><linearGradient id="aptbg" x1="0" y1="0" x2="1" y2="0"><stop offset="0" stop-color="#e4e4e4"/><stop offset="0.15" stop-color="#e9e9e9"/><stop offset="1" stop-color="#ececec"/></linearGradient></defs>
<rect x="407.5" y="18.7" width="99.5" height="165.3" fill="url(#aptbg)"/>
<path d="M456.8,39.1 C455.5,39.2 454.8,40.5 454.1,41.8 L448.4,55.3 L442.9,68.9 L438.2,82.4 L433.8,96 L429.4,112.9 L425.3,129.9 L421.3,146.8 L417.9,163.7 L414.5,184 L500.9,184 L497.1,167.1 L492.4,146.8 L487,126.5 L482.2,109.5 L477.8,92.6 L472.8,75.6 L467.7,60.4 L466,57.5 L462.6,51.9 L459.3,41.5 C458.6,40 457.9,39.2 456.8,39.1 Z" fill="url(#cone)" filter="url(#blur1)"/>
<defs><clipPath id="conec"><path d="M456.8,39.1 L454.1,41.8 L448.4,55.3 L442.9,68.9 L438.2,82.4 L433.8,96 L429.4,112.9 L425.3,129.9 L421.3,146.8 L417.9,163.7 L414.5,184 L500.9,184 L497.1,167.1 L492.4,146.8 L487,126.5 L482.2,109.5 L477.8,92.6 L472.8,75.6 L467.7,60.4 L466,57.5 L462.6,51.9 L459.3,41.5 Z"/></clipPath></defs>
<g clip-path="url(#conec)"><ellipse cx="456" cy="150" rx="30" ry="32" fill="#1a1a1a" opacity="0.3" filter="url(#blur3)"/>
<circle cx="452" cy="75" r="2.5" fill="#333" opacity="0.08" filter="url(#blur1)"/>
<circle cx="461" cy="88" r="3" fill="#333" opacity="0.07" filter="url(#blur1)"/>
<circle cx="447" cy="104" r="2.5" fill="#333" opacity="0.07" filter="url(#blur1)"/>
<circle cx="466" cy="70" r="2" fill="#333" opacity="0.07" filter="url(#blur1)"/>
<circle cx="440" cy="150" r="3" fill="#333" opacity="0.1" filter="url(#blur1)"/>
<circle cx="458" cy="62" r="1.6" fill="#333" opacity="0.1" filter="url(#blur1)"/>
<circle cx="470" cy="95" r="3" fill="#333" opacity="0.07" filter="url(#blur1)"/>
</g>
<rect x="413" y="174" width="28.8" height="4.6" fill="#fff" stroke="#111" stroke-width="0.6"/>
<text x="460.2" y="31" font-size="10.9" text-anchor="middle" fill="#111">APT specimen</text>
<defs><linearGradient id="arw" x1="0" y1="0" x2="1" y2="0"><stop offset="0" stop-color="#ffffff"/><stop offset="0.2" stop-color="#5c6fe0"/><stop offset="1" stop-color="#93a6ee"/></linearGradient><filter id="shd"><feGaussianBlur stdDeviation="1.5"/></filter></defs>
<path d="M520.5,81 L555.5,81 L555.5,71.3 L575,98 L555.5,124.7 L555.5,115 L520.5,115 Z" fill="#333" opacity="0.6" filter="url(#shd)"/>
<path d="M518.7,79 L553.4,79 L553.4,69.3 L573,96 L553.4,122.7 L553.4,113 L518.7,113 Z" fill="url(#arw)"/>
<text x="545" y="92.3" font-size="8.8" font-weight="bold" text-anchor="middle" fill="#111">APT</text>
<text x="545.8" y="103.5" font-size="8.8" font-weight="bold" text-anchor="middle" fill="#111">analysis</text>
<defs><radialGradient id="det" cx="0.45" cy="0.5" r="0.6"><stop offset="0" stop-color="#d8f030"/><stop offset="0.5" stop-color="#b0ec30"/><stop offset="0.85" stop-color="#58e048"/><stop offset="1" stop-color="#40d860"/></radialGradient><linearGradient id="le" x1="0" y1="0" x2="1" y2="0"><stop offset="0" stop-color="#444"/><stop offset="0.5" stop-color="#777"/><stop offset="1" stop-color="#3a3a3a"/></linearGradient></defs>
<path d="M595,21 L612,38 L680,40 L664,24" fill="none" stroke="#aaa" stroke-width="0.4"/>
<ellipse cx="637.4" cy="25.4" rx="32.9" ry="10.2" fill="#a844ee"/>
<ellipse cx="634.6" cy="25.9" rx="27.8" ry="8.4" fill="url(#det)"/>
<ellipse cx="628" cy="24.5" rx="12" ry="4" fill="#f0f020" opacity="0.5" filter="url(#blur1)"/>
<text x="656.1" y="15.6" font-size="5.4" font-family="Liberation Serif, serif" fill="#111">Detector</text>
<line x1="602.2" y1="27" x2="602.2" y2="119" stroke="#111" stroke-width="0.8"/>
<path d="M600.6,118 L603.8,118 L602.2,121.5 Z" fill="#111"/>
<path d="M600.6,29 L603.8,29 L602.2,25.5 Z" fill="#111"/>
<text transform="translate(591.5,83.5) rotate(-90)" font-size="5.75" text-anchor="middle" fill="#222">Time-of-Flight</text>
<text transform="translate(597.5,83.5) rotate(-90)" font-size="5.7" text-anchor="middle" fill="#222">measurement</text>
<polyline points="670,25.5 677,25.5 677,126" fill="none" stroke="#111" stroke-width="0.8"/>
<polyline points="677,130.5 677,179.5 638,179.5 638,175" fill="none" stroke="#111" stroke-width="0.8"/>
<line x1="671" x2="683" y1="127" y2="127" stroke="#111" stroke-width="0.9"/>
<line x1="671" x2="683" y1="130" y2="130" stroke="#111" stroke-width="0.9"/>
<line x1="666" x2="677" y1="78.5" y2="78.5" stroke="#111" stroke-width="0.8" stroke-dasharray="1.5,1"/>
<text transform="translate(672.3,151) rotate(-90)" font-size="5.8" text-anchor="middle" fill="#222">Voltage pulse</text>
<path d="M609.4,72 Q638,64.5 667.6,72 C666,76 661,82 657,86 Q638,91 620,86 C616,82 611,76 609.4,72 Z" fill="url(#le)"/>
<ellipse cx="638.5" cy="86.5" rx="18.5" ry="3.2" fill="#d8d8d8"/>
<ellipse cx="638.5" cy="70.3" rx="28.5" ry="2.2" fill="#9a9a9a" opacity="0.7"/>
<text x="638.5" y="79.6" font-size="5.8" font-weight="bold" text-anchor="middle" fill="#fff">Local Electrode</text>
<line x1="625" y1="67" x2="623" y2="47" stroke="#555" stroke-width="0.4" stroke-dasharray="1,0.8"/>
<line x1="637.5" y1="67" x2="637.5" y2="40" stroke="#555" stroke-width="0.4" stroke-dasharray="1,0.8"/>
<line x1="652" y1="67" x2="654" y2="45" stroke="#555" stroke-width="0.4" stroke-dasharray="1,0.8"/>
<line x1="630" y1="118" x2="627" y2="95" stroke="#555" stroke-width="0.4" stroke-dasharray="1,0.8"/>
<line x1="638" y1="118" x2="639" y2="92" stroke="#555" stroke-width="0.4" stroke-dasharray="1,0.8"/>
<line x1="645" y1="118" x2="648" y2="94" stroke="#555" stroke-width="0.4" stroke-dasharray="1,0.8"/>
<circle cx="624.3" cy="57" r="2.0" fill="#e02020"/>
<circle cx="637.5" cy="52" r="2.0" fill="#2060e0"/>
<circle cx="653" cy="55.5" r="2.0" fill="#20a040"/>
<circle cx="629.5" cy="108" r="2.0" fill="#e02020"/>
<circle cx="638.5" cy="102" r="2.0" fill="#e02020"/>
<circle cx="646" cy="107" r="2.0" fill="#2060e0"/>
<text x="619.8" y="61.6" font-size="5" font-weight="bold" text-anchor="middle" fill="#222">+</text>
<text x="633.3" y="54.4" font-size="5" font-weight="bold" text-anchor="middle" fill="#222">+</text>
<text x="648.9" y="60.6" font-size="5" font-weight="bold" text-anchor="middle" fill="#222">+</text>
<text x="625.2" y="110.5" font-size="5" font-weight="bold" text-anchor="middle" fill="#222">+</text>
<text x="634" y="104" font-size="5" font-weight="bold" text-anchor="middle" fill="#222">+</text>
<text x="642.5" y="107.5" font-size="5" font-weight="bold" text-anchor="middle" fill="#222">+</text>
<path d="M622,47.5 L624,47.5 L623,45.5 Z" fill="#222"/>
<path d="M636.5,41.3 L638.5,41.3 L637.5,39.3 Z" fill="#222"/>
<path d="M653,46 L655,46 L654,44 Z" fill="#222"/>
<path d="M625.7,93.8 L627.7,93.8 L626.7,91.8 Z" fill="#222"/>
<path d="M636.8,92.6 L638.8,92.6 L637.8,90.6 Z" fill="#222"/>
<path d="M646.5,93.8 L648.5,93.8 L647.5,91.8 Z" fill="#222"/>
<defs><pattern id="tipp" width="4" height="4.5" patternUnits="userSpaceOnUse" y="0.5"><rect width="4" height="4.5" fill="#d81818"/><rect y="1.9" width="4" height="1.5" fill="#22c030"/><rect y="3.4" width="4" height="0.8" fill="#4030b0"/></pattern></defs>
<path d="M624.3,138.7 C628,130 633,122 637.8,121.1 C643,122 649,134 652.5,142.8 L652.5,174 L638,175.5 L624.3,174.8 Z" fill="url(#tipp)"/>
<line x1="638" y1="140" x2="638" y2="175.5" stroke="#6a2020" stroke-width="0.3" opacity="0.5"/>
<path d="M609,128.2 L617.5,126.6 L629.6,123.1 L621.5,131.5 L612,138.2 Z" fill="#f0b000"/>
<text x="611.2" y="129.3" font-size="6" fill="#222">Laser</text>
<text x="611.5" y="136.2" font-size="6" fill="#222">pulse</text>
<text x="586.8" y="158.1" font-size="6.2" fill="#222">Li(NiCoMn)O<tspan font-size="4.4" dy="1.2">2</tspan></text>
<rect x="588.1" y="164.4" width="34.7" height="16.9" rx="0.8" fill="#fff" stroke="#c4c4c4" stroke-width="0.6"/>
<circle cx="592.1" cy="169.7" r="2.0" fill="#e01818"/>
<circle cx="607.8" cy="169.7" r="2.0" fill="#1c5ce0"/>
<circle cx="592.1" cy="176" r="2.0" fill="#109020"/>
<text x="596.6" y="171.4" font-size="4.6" fill="#222">Li</text>
<text x="612.6" y="171.4" font-size="4.6" fill="#222">O</text>
<text x="596.9" y="177.7" font-size="4.6" fill="#222">Ni, Co, Mn</text>
<text x="1.2" y="209.0" font-size="13.6" font-weight="bold">c</text>
<defs><linearGradient id="cbg" x1="0" y1="0" x2="0" y2="1"><stop offset="0" stop-color="#a2a2aa"/><stop offset="1" stop-color="#a8a8fc"/></linearGradient></defs>
<rect x="51.0" y="218.3" width="265.4" height="177.3" fill="url(#cbg)"/>
<line x1="51.0" x2="316.4" y1="366.1" y2="366.1" stroke="#8888b8" stroke-width="0.5" stroke-dasharray="1.2,1.5"/>
<line x1="51.0" x2="316.4" y1="336.5" y2="336.5" stroke="#8888b8" stroke-width="0.5" stroke-dasharray="1.2,1.5"/>
<line x1="51.0" x2="316.4" y1="307.0" y2="307.0" stroke="#8888b8" stroke-width="0.5" stroke-dasharray="1.2,1.5"/>
<line x1="51.0" x2="316.4" y1="277.4" y2="277.4" stroke="#8888b8" stroke-width="0.5" stroke-dasharray="1.2,1.5"/>
<line x1="51.0" x2="316.4" y1="247.8" y2="247.8" stroke="#8888b8" stroke-width="0.5" stroke-dasharray="1.2,1.5"/>
<line x1="51.0" x2="316.4" y1="218.3" y2="218.3" stroke="#777" stroke-width="1"/>
<line x1="316.4" x2="316.4" y1="218.3" y2="395.6" stroke="#666" stroke-width="1"/>
<line x1="51.0" x2="51.0" y1="218.3" y2="395.6" stroke="#555" stroke-width="1.1"/>
<line x1="51.0" x2="54.2" y1="395.6" y2="395.6" stroke="#333" stroke-width="0.9"/>
<text x="47.4" y="398.2" font-size="7.0" text-anchor="end" fill="#222">0.0</text>
<line x1="51.0" x2="52.7" y1="380.8" y2="380.8" stroke="#333" stroke-width="0.9"/>
<line x1="51.0" x2="54.2" y1="366.1" y2="366.1" stroke="#333" stroke-width="0.9"/>
<text x="47.4" y="368.7" font-size="7.0" text-anchor="end" fill="#222">0.2</text>
<line x1="51.0" x2="52.7" y1="351.3" y2="351.3" stroke="#333" stroke-width="0.9"/>
<line x1="51.0" x2="54.2" y1="336.5" y2="336.5" stroke="#333" stroke-width="0.9"/>
<text x="47.4" y="339.1" font-size="7.0" text-anchor="end" fill="#222">0.4</text>
<line x1="51.0" x2="52.7" y1="321.7" y2="321.7" stroke="#333" stroke-width="0.9"/>
<line x1="51.0" x2="54.2" y1="306.9" y2="306.9" stroke="#333" stroke-width="0.9"/>
<text x="47.4" y="309.6" font-size="7.0" text-anchor="end" fill="#222">0.6</text>
<line x1="51.0" x2="52.7" y1="292.2" y2="292.2" stroke="#333" stroke-width="0.9"/>
<line x1="51.0" x2="54.2" y1="277.4" y2="277.4" stroke="#333" stroke-width="0.9"/>
<text x="47.4" y="280.0" font-size="7.0" text-anchor="end" fill="#222">0.8</text>
<line x1="51.0" x2="52.7" y1="262.6" y2="262.6" stroke="#333" stroke-width="0.9"/>
<line x1="51.0" x2="54.2" y1="247.8" y2="247.8" stroke="#333" stroke-width="0.9"/>
<text x="47.4" y="250.4" font-size="7.0" text-anchor="end" fill="#222">1.0</text>
<line x1="51.0" x2="52.7" y1="233.1" y2="233.1" stroke="#333" stroke-width="0.9"/>
<line x1="51.0" x2="54.2" y1="218.3" y2="218.3" stroke="#333" stroke-width="0.9"/>
<text x="47.4" y="220.9" font-size="7.0" text-anchor="end" fill="#222">1.2</text>
<text transform="translate(27.6,308.8) rotate(-90)" font-size="9.15" text-anchor="middle" fill="#222">Normalized atomic ratio of Li</text>
<rect x="221.3" y="219.5" width="93.2" height="17.0" fill="#a6a6b2" stroke="#444" stroke-width="0.8"/>
<rect x="229.1" y="225.4" width="6.5" height="6.5" fill="#f00"/>
<text x="239.2" y="231.7" font-size="9.05" fill="#111">Atomic ratio of Li</text>
<line x1="68.4" x2="68.4" y1="239.5" y2="244.9" stroke="#222" stroke-width="0.7"/>
<line x1="65.7" x2="71.1" y1="239.5" y2="239.5" stroke="#222" stroke-width="0.9"/>
<line x1="65.7" x2="71.1" y1="244.9" y2="244.9" stroke="#222" stroke-width="0.9"/>
<rect x="65.6" y="240.0" width="5.6" height="4.4" fill="#f00"/>
<line x1="86.1" x2="86.1" y1="251.2" y2="256.2" stroke="#222" stroke-width="0.7"/>
<line x1="83.4" x2="88.8" y1="251.2" y2="251.2" stroke="#222" stroke-width="0.9"/>
<line x1="83.4" x2="88.8" y1="256.2" y2="256.2" stroke="#222" stroke-width="0.9"/>
<rect x="83.3" y="251.5" width="5.6" height="4.4" fill="#f00"/>
<line x1="103.8" x2="103.8" y1="308.9" y2="313.9" stroke="#222" stroke-width="0.7"/>
<line x1="101.1" x2="106.5" y1="308.9" y2="308.9" stroke="#222" stroke-width="0.9"/>
<line x1="101.1" x2="106.5" y1="313.9" y2="313.9" stroke="#222" stroke-width="0.9"/>
<rect x="101.0" y="309.2" width="5.6" height="4.4" fill="#f00"/>
<line x1="121.6" x2="121.6" y1="291.6" y2="298.8" stroke="#222" stroke-width="0.7"/>
<line x1="118.9" x2="124.3" y1="291.6" y2="291.6" stroke="#222" stroke-width="0.9"/>
<line x1="118.9" x2="124.3" y1="298.8" y2="298.8" stroke="#222" stroke-width="0.9"/>
<rect x="118.8" y="293.0" width="5.6" height="4.4" fill="#f00"/>
<line x1="139.3" x2="139.3" y1="280.9" y2="285.9" stroke="#222" stroke-width="0.7"/>
<line x1="136.6" x2="142.0" y1="280.9" y2="280.9" stroke="#222" stroke-width="0.9"/>
<line x1="136.6" x2="142.0" y1="285.9" y2="285.9" stroke="#222" stroke-width="0.9"/>
<rect x="136.5" y="281.2" width="5.6" height="4.4" fill="#f00"/>
<line x1="157.0" x2="157.0" y1="244.4" y2="254.4" stroke="#222" stroke-width="0.7"/>
<line x1="154.3" x2="159.7" y1="244.4" y2="244.4" stroke="#222" stroke-width="0.9"/>
<line x1="154.3" x2="159.7" y1="254.4" y2="254.4" stroke="#222" stroke-width="0.9"/>
<rect x="154.2" y="247.2" width="5.6" height="4.4" fill="#f00"/>
<line x1="174.7" x2="174.7" y1="389.3" y2="393.3" stroke="#222" stroke-width="0.7"/>
<line x1="172.0" x2="177.4" y1="389.3" y2="389.3" stroke="#222" stroke-width="0.9"/>
<line x1="172.0" x2="177.4" y1="393.3" y2="393.3" stroke="#222" stroke-width="0.9"/>
<rect x="171.9" y="389.1" width="5.6" height="4.4" fill="#f00"/>
<line x1="192.4" x2="192.4" y1="338.5" y2="343.5" stroke="#222" stroke-width="0.7"/>
<line x1="189.7" x2="195.1" y1="338.5" y2="338.5" stroke="#222" stroke-width="0.9"/>
<line x1="189.7" x2="195.1" y1="343.5" y2="343.5" stroke="#222" stroke-width="0.9"/>
<rect x="189.6" y="338.8" width="5.6" height="4.4" fill="#f00"/>
<line x1="210.2" x2="210.2" y1="323.9" y2="328.9" stroke="#222" stroke-width="0.7"/>
<line x1="207.5" x2="212.9" y1="323.9" y2="323.9" stroke="#222" stroke-width="0.9"/>
<line x1="207.5" x2="212.9" y1="328.9" y2="328.9" stroke="#222" stroke-width="0.9"/>
<rect x="207.4" y="324.2" width="5.6" height="4.4" fill="#f00"/>
<line x1="227.9" x2="227.9" y1="289.3" y2="297.9" stroke="#222" stroke-width="0.7"/>
<line x1="225.2" x2="230.6" y1="289.3" y2="289.3" stroke="#222" stroke-width="0.9"/>
<line x1="225.2" x2="230.6" y1="297.9" y2="297.9" stroke="#222" stroke-width="0.9"/>
<rect x="225.1" y="291.4" width="5.6" height="4.4" fill="#f00"/>
<line x1="245.6" x2="245.6" y1="277.2" y2="286.8" stroke="#222" stroke-width="0.7"/>
<line x1="242.9" x2="248.3" y1="277.2" y2="277.2" stroke="#222" stroke-width="0.9"/>
<line x1="242.9" x2="248.3" y1="286.8" y2="286.8" stroke="#222" stroke-width="0.9"/>
<rect x="242.8" y="279.8" width="5.6" height="4.4" fill="#f00"/>
<line x1="263.3" x2="263.3" y1="265.1" y2="278.3" stroke="#222" stroke-width="0.7"/>
<line x1="260.6" x2="266.0" y1="265.1" y2="265.1" stroke="#222" stroke-width="0.9"/>
<line x1="260.6" x2="266.0" y1="278.3" y2="278.3" stroke="#222" stroke-width="0.9"/>
<rect x="260.5" y="269.5" width="5.6" height="4.4" fill="#f00"/>
<line x1="281.0" x2="281.0" y1="258.6" y2="264.0" stroke="#222" stroke-width="0.7"/>
<line x1="278.3" x2="283.7" y1="258.6" y2="258.6" stroke="#222" stroke-width="0.9"/>
<line x1="278.3" x2="283.7" y1="264.0" y2="264.0" stroke="#222" stroke-width="0.9"/>
<rect x="278.2" y="259.1" width="5.6" height="4.4" fill="#f00"/>
<line x1="298.8" x2="298.8" y1="241.2" y2="246.2" stroke="#222" stroke-width="0.7"/>
<line x1="296.1" x2="301.5" y1="241.2" y2="241.2" stroke="#222" stroke-width="0.9"/>
<line x1="296.1" x2="301.5" y1="246.2" y2="246.2" stroke="#222" stroke-width="0.9"/>
<rect x="296.0" y="241.5" width="5.6" height="4.4" fill="#f00"/>
<text x="97.2" y="208.2" font-size="8.8" font-weight="bold" fill="#111">Surface</text>
<text x="165.6" y="208.2" font-size="9.0" font-weight="bold" text-anchor="end" fill="#111">Center</text>
<line x1="102.2" x2="153" y1="215" y2="215" stroke="#111" stroke-width="1"/>
<path d="M157,215 L151,212.8 L151,217.2 Z" fill="#111"/>
<text x="177.7" y="208.2" font-size="8.8" font-weight="bold" fill="#111">Surface</text>
<text x="300.8" y="208.2" font-size="9.0" font-weight="bold" text-anchor="end" fill="#111">Center</text>
<line x1="176.8" x2="295" y1="215" y2="215" stroke="#111" stroke-width="1"/>
<path d="M299,215 L293,212.8 L293,217.2 Z" fill="#111"/>
<rect x="17.0" y="401.0" width="292.1" height="24.2" fill="#d9f5b8"/>
<rect x="17.0" y="425.2" width="292.1" height="13.9" fill="#f99a9a"/>
<rect x="17.0" y="401.0" width="292.1" height="38.1" fill="none" stroke="#4a4a4a" stroke-width="0.7"/>
<line x1="17.0" x2="59.6" y1="413.6" y2="413.6" stroke="#4a4a4a" stroke-width="0.6"/>
<line x1="95.2" x2="309.1" y1="413.6" y2="413.6" stroke="#4a4a4a" stroke-width="0.6"/>
<line x1="17.0" x2="309.1" y1="425.2" y2="425.2" stroke="#4a4a4a" stroke-width="0.6"/>
<line x1="59.6" x2="59.6" y1="401.0" y2="439.1" stroke="#4a4a4a" stroke-width="0.6"/>
<line x1="77.4" x2="77.4" y1="401.0" y2="439.1" stroke="#4a4a4a" stroke-width="0.6"/>
<line x1="95.2" x2="95.2" y1="401.0" y2="439.1" stroke="#4a4a4a" stroke-width="0.6"/>
<line x1="113.1" x2="113.1" y1="401.0" y2="425.2" stroke="#4a4a4a" stroke-width="0.6"/>
<line x1="130.9" x2="130.9" y1="401.0" y2="425.2" stroke="#4a4a4a" stroke-width="0.6"/>
<line x1="148.7" x2="148.7" y1="401.0" y2="425.2" stroke="#4a4a4a" stroke-width="0.6"/>
<line x1="166.5" x2="166.5" y1="401.0" y2="439.1" stroke="#4a4a4a" stroke-width="0.6"/>
<line x1="184.3" x2="184.3" y1="401.0" y2="425.2" stroke="#4a4a4a" stroke-width="0.6"/>
<line x1="202.2" x2="202.2" y1="401.0" y2="425.2" stroke="#4a4a4a" stroke-width="0.6"/>
<line x1="220.0" x2="220.0" y1="401.0" y2="425.2" stroke="#4a4a4a" stroke-width="0.6"/>
<line x1="237.8" x2="237.8" y1="401.0" y2="425.2" stroke="#4a4a4a" stroke-width="0.6"/>
<line x1="255.6" x2="255.6" y1="401.0" y2="425.2" stroke="#4a4a4a" stroke-width="0.6"/>
<line x1="273.4" x2="273.4" y1="401.0" y2="425.2" stroke="#4a4a4a" stroke-width="0.6"/>
<line x1="291.3" x2="291.3" y1="401.0" y2="425.2" stroke="#4a4a4a" stroke-width="0.6"/>
<text x="38.3" y="409.5" font-size="5.4" font-weight="bold" text-anchor="middle" fill="#222">Depth (μm)</text>
<text x="38.3" y="421.6" font-size="5.4" font-weight="bold" text-anchor="middle" fill="#222">Region</text>
<text x="38.3" y="434.3" font-size="5.4" font-weight="bold" text-anchor="middle" fill="#222">Cycle number</text>
<text x="68.5" y="415.9" font-size="5.4" font-weight="bold" text-anchor="middle" fill="#222">R</text>
<text x="86.3" y="415.9" font-size="5.4" font-weight="bold" text-anchor="middle" fill="#222">R</text>
<text x="68.5" y="434.3" font-size="5.4" font-weight="bold" text-anchor="middle" fill="#222">P</text>
<text x="86.3" y="434.3" font-size="5.4" font-weight="bold" text-anchor="middle" fill="#222">F</text>
<text x="104.2" y="409.5" font-size="5.4" font-weight="bold" text-anchor="middle" fill="#222">0.1</text>
<text x="104.2" y="421.6" font-size="5.4" font-weight="bold" text-anchor="middle" fill="#222">R1</text>
<text x="122.0" y="409.5" font-size="5.4" font-weight="bold" text-anchor="middle" fill="#222">0.2</text>
<text x="122.0" y="421.6" font-size="5.4" font-weight="bold" text-anchor="middle" fill="#222">R2</text>
<text x="139.8" y="409.5" font-size="5.4" font-weight="bold" text-anchor="middle" fill="#222">0.3</text>
<text x="139.8" y="421.6" font-size="5.4" font-weight="bold" text-anchor="middle" fill="#222">R3</text>
<text x="157.6" y="409.5" font-size="5.4" font-weight="bold" text-anchor="middle" fill="#222">2.0</text>
<text x="157.6" y="421.6" font-size="5.4" font-weight="bold" text-anchor="middle" fill="#222">R4</text>
<text x="175.4" y="409.5" font-size="5.4" font-weight="bold" text-anchor="middle" fill="#222">0</text>
<text x="175.4" y="421.6" font-size="5.4" font-weight="bold" text-anchor="middle" fill="#222">R0</text>
<text x="193.2" y="409.5" font-size="5.4" font-weight="bold" text-anchor="middle" fill="#222">0.03</text>
<text x="193.2" y="421.6" font-size="5.4" font-weight="bold" text-anchor="middle" fill="#222">R1</text>
<text x="211.1" y="409.5" font-size="5.4" font-weight="bold" text-anchor="middle" fill="#222">0.1</text>
<text x="211.1" y="421.6" font-size="5.4" font-weight="bold" text-anchor="middle" fill="#222">R2</text>
<text x="228.9" y="409.5" font-size="5.4" font-weight="bold" text-anchor="middle" fill="#222">0.35</text>
<text x="228.9" y="421.6" font-size="5.4" font-weight="bold" text-anchor="middle" fill="#222">R3</text>
<text x="246.7" y="409.5" font-size="5.4" font-weight="bold" text-anchor="middle" fill="#222">0.7</text>
<text x="246.7" y="421.6" font-size="5.4" font-weight="bold" text-anchor="middle" fill="#222">R4</text>
<text x="264.5" y="409.5" font-size="5.4" font-weight="bold" text-anchor="middle" fill="#222">1.0</text>
<text x="264.5" y="421.6" font-size="5.4" font-weight="bold" text-anchor="middle" fill="#222">R5</text>
<text x="282.4" y="409.5" font-size="5.4" font-weight="bold" text-anchor="middle" fill="#222">1.5</text>
<text x="282.4" y="421.6" font-size="5.4" font-weight="bold" text-anchor="middle" fill="#222">R6</text>
<text x="300.2" y="409.5" font-size="5.4" font-weight="bold" text-anchor="middle" fill="#222">2.0</text>
<text x="300.2" y="421.6" font-size="5.4" font-weight="bold" text-anchor="middle" fill="#222">R7</text>
<text x="130.9" y="434.3" font-size="5.4" font-weight="bold" text-anchor="middle" fill="#222">100 cycles</text>
<text x="237.8" y="434.3" font-size="5.4" font-weight="bold" text-anchor="middle" fill="#222">300 cycles</text>
<text x="165.7" y="455.6" font-size="9.1" font-weight="bold" text-anchor="middle" fill="#111">Depth (μm) and specimen (cycle number)</text>
<text x="331.4" y="208.7" font-size="13.6" font-weight="bold">d</text>
<defs><linearGradient id="gli" x1="0" y1="0" x2="0" y2="1"><stop offset="0" stop-color="#ff0000"/><stop offset="1" stop-color="#7a0000"/></linearGradient><linearGradient id="gni" x1="0" y1="0" x2="0" y2="1"><stop offset="0" stop-color="#44ff44"/><stop offset="1" stop-color="#007a00"/></linearGradient><linearGradient id="gco" x1="0" y1="0" x2="0" y2="1"><stop offset="0" stop-color="#8a00ff"/><stop offset="1" stop-color="#5a00b0"/></linearGradient><linearGradient id="gmn" x1="0" y1="0" x2="0" y2="1"><stop offset="0" stop-color="#ff8800"/><stop offset="1" stop-color="#8a3c00"/></linearGradient><linearGradient id="go" x1="0" y1="0" x2="0" y2="1"><stop offset="0" stop-color="#0000ff"/><stop offset="1" stop-color="#00007a"/></linearGradient></defs>
<rect x="384.00" y="350.04" width="12.75" height="45.26" fill="url(#gli)"/>
<rect x="384.00" y="312.05" width="12.75" height="37.99" fill="url(#gni)"/>
<rect x="384.00" y="306.73" width="12.75" height="5.32" fill="url(#gco)"/>
<rect x="384.00" y="304.95" width="12.75" height="1.78" fill="url(#gmn)"/>
<rect x="384.00" y="217.80" width="12.75" height="87.15" fill="url(#go)"/>
<rect x="401.69" y="351.63" width="12.75" height="43.67" fill="url(#gli)"/>
<rect x="401.69" y="314.18" width="12.75" height="37.45" fill="url(#gni)"/>
<rect x="401.69" y="307.08" width="12.75" height="7.10" fill="url(#gco)"/>
<rect x="401.69" y="305.13" width="12.75" height="1.95" fill="url(#gmn)"/>
<rect x="401.69" y="217.80" width="12.75" height="87.33" fill="url(#go)"/>
<rect x="419.38" y="366.01" width="12.75" height="29.29" fill="url(#gli)"/>
<rect x="419.38" y="325.19" width="12.75" height="40.82" fill="url(#gni)"/>
<rect x="419.38" y="316.85" width="12.75" height="8.34" fill="url(#gco)"/>
<rect x="419.38" y="314.18" width="12.75" height="2.66" fill="url(#gmn)"/>
<rect x="419.38" y="217.80" width="12.75" height="96.38" fill="url(#go)"/>
<rect x="437.07" y="362.11" width="12.75" height="33.19" fill="url(#gli)"/>
<rect x="437.07" y="322.52" width="12.75" height="39.58" fill="url(#gni)"/>
<rect x="437.07" y="314.89" width="12.75" height="7.63" fill="url(#gco)"/>
<rect x="437.07" y="312.59" width="12.75" height="2.31" fill="url(#gmn)"/>
<rect x="437.07" y="217.80" width="12.75" height="94.79" fill="url(#go)"/>
<rect x="454.76" y="357.14" width="12.75" height="38.16" fill="url(#gli)"/>
<rect x="454.76" y="316.85" width="12.75" height="40.29" fill="url(#gni)"/>
<rect x="454.76" y="308.33" width="12.75" height="8.52" fill="url(#gco)"/>
<rect x="454.76" y="306.02" width="12.75" height="2.31" fill="url(#gmn)"/>
<rect x="454.76" y="217.80" width="12.75" height="88.22" fill="url(#go)"/>
<rect x="472.45" y="350.75" width="12.75" height="44.55" fill="url(#gli)"/>
<rect x="472.45" y="314.89" width="12.75" height="35.85" fill="url(#gni)"/>
<rect x="472.45" y="307.62" width="12.75" height="7.28" fill="url(#gco)"/>
<rect x="472.45" y="305.49" width="12.75" height="2.13" fill="url(#gmn)"/>
<rect x="472.45" y="217.80" width="12.75" height="87.69" fill="url(#go)"/>
<rect x="490.14" y="393.70" width="12.75" height="1.60" fill="url(#gli)"/>
<rect x="490.14" y="339.92" width="12.75" height="53.78" fill="url(#gni)"/>
<rect x="490.14" y="329.62" width="12.75" height="10.30" fill="url(#gco)"/>
<rect x="490.14" y="327.14" width="12.75" height="2.49" fill="url(#gmn)"/>
<rect x="490.14" y="217.80" width="12.75" height="109.34" fill="url(#go)"/>
<rect x="507.83" y="375.78" width="12.75" height="19.52" fill="url(#gli)"/>
<rect x="507.83" y="331.40" width="12.75" height="44.38" fill="url(#gni)"/>
<rect x="507.83" y="323.41" width="12.75" height="7.99" fill="url(#gco)"/>
<rect x="507.83" y="321.46" width="12.75" height="1.95" fill="url(#gmn)"/>
<rect x="507.83" y="217.80" width="12.75" height="103.66" fill="url(#go)"/>
<rect x="525.52" y="370.63" width="12.75" height="24.67" fill="url(#gli)"/>
<rect x="525.52" y="326.25" width="12.75" height="44.38" fill="url(#gni)"/>
<rect x="525.52" y="318.80" width="12.75" height="7.45" fill="url(#gco)"/>
<rect x="525.52" y="316.85" width="12.75" height="1.95" fill="url(#gmn)"/>
<rect x="525.52" y="217.80" width="12.75" height="99.05" fill="url(#go)"/>
<rect x="543.21" y="361.22" width="12.75" height="34.08" fill="url(#gli)"/>
<rect x="543.21" y="320.75" width="12.75" height="40.47" fill="url(#gni)"/>
<rect x="543.21" y="313.47" width="12.75" height="7.28" fill="url(#gco)"/>
<rect x="543.21" y="311.17" width="12.75" height="2.31" fill="url(#gmn)"/>
<rect x="543.21" y="217.80" width="12.75" height="93.37" fill="url(#go)"/>
<rect x="560.90" y="356.96" width="12.75" height="38.34" fill="url(#gli)"/>
<rect x="560.90" y="316.85" width="12.75" height="40.12" fill="url(#gni)"/>
<rect x="560.90" y="309.39" width="12.75" height="7.46" fill="url(#gco)"/>
<rect x="560.90" y="307.44" width="12.75" height="1.95" fill="url(#gmn)"/>
<rect x="560.90" y="217.80" width="12.75" height="89.64" fill="url(#go)"/>
<rect x="578.59" y="356.07" width="12.75" height="39.23" fill="url(#gli)"/>
<rect x="578.59" y="318.80" width="12.75" height="37.27" fill="url(#gni)"/>
<rect x="578.59" y="310.63" width="12.75" height="8.17" fill="url(#gco)"/>
<rect x="578.59" y="308.86" width="12.75" height="1.77" fill="url(#gmn)"/>
<rect x="578.59" y="217.80" width="12.75" height="91.06" fill="url(#go)"/>
<rect x="596.28" y="353.76" width="12.75" height="41.54" fill="url(#gli)"/>
<rect x="596.28" y="315.96" width="12.75" height="37.81" fill="url(#gni)"/>
<rect x="596.28" y="309.39" width="12.75" height="6.57" fill="url(#gco)"/>
<rect x="596.28" y="307.62" width="12.75" height="1.77" fill="url(#gmn)"/>
<rect x="596.28" y="217.80" width="12.75" height="89.81" fill="url(#go)"/>
<rect x="613.97" y="349.33" width="12.75" height="45.97" fill="url(#gli)"/>
<rect x="613.97" y="312.76" width="12.75" height="36.56" fill="url(#gni)"/>
<rect x="613.97" y="306.02" width="12.75" height="6.75" fill="url(#gco)"/>
<rect x="613.97" y="304.24" width="12.75" height="1.78" fill="url(#gmn)"/>
<rect x="613.97" y="217.80" width="12.75" height="86.44" fill="url(#go)"/>
<line x1="372.9" x2="638.0" y1="217.8" y2="217.8" stroke="#555" stroke-width="1"/>
<line x1="638.0" x2="638.0" y1="217.8" y2="395.3" stroke="#888" stroke-width="0.8"/>
<line x1="372.9" x2="372.9" y1="217.8" y2="395.3" stroke="#555" stroke-width="1"/>
<line x1="372.9" x2="638.0" y1="395.3" y2="395.3" stroke="#333" stroke-width="1"/>
<line x1="372.9" x2="376.4" y1="395.3" y2="395.3" stroke="#444" stroke-width="0.8"/>
<text x="369.09999999999997" y="397.7" font-size="7.3" text-anchor="end" fill="#222">0</text>
<line x1="372.9" x2="374.59999999999997" y1="377.6" y2="377.6" stroke="#444" stroke-width="0.8"/>
<line x1="372.9" x2="376.4" y1="359.8" y2="359.8" stroke="#444" stroke-width="0.8"/>
<text x="369.09999999999997" y="362.2" font-size="7.3" text-anchor="end" fill="#222">20</text>
<line x1="372.9" x2="374.59999999999997" y1="342.1" y2="342.1" stroke="#444" stroke-width="0.8"/>
<line x1="372.9" x2="376.4" y1="324.3" y2="324.3" stroke="#444" stroke-width="0.8"/>
<text x="369.09999999999997" y="326.7" font-size="7.3" text-anchor="end" fill="#222">40</text>
<line x1="372.9" x2="374.59999999999997" y1="306.6" y2="306.6" stroke="#444" stroke-width="0.8"/>
<line x1="372.9" x2="376.4" y1="288.8" y2="288.8" stroke="#444" stroke-width="0.8"/>
<text x="369.09999999999997" y="291.2" font-size="7.3" text-anchor="end" fill="#222">60</text>
<line x1="372.9" x2="374.59999999999997" y1="271.1" y2="271.1" stroke="#444" stroke-width="0.8"/>
<line x1="372.9" x2="376.4" y1="253.3" y2="253.3" stroke="#444" stroke-width="0.8"/>
<text x="369.09999999999997" y="255.7" font-size="7.3" text-anchor="end" fill="#222">80</text>
<line x1="372.9" x2="374.59999999999997" y1="235.6" y2="235.6" stroke="#444" stroke-width="0.8"/>
<line x1="372.9" x2="376.4" y1="217.8" y2="217.8" stroke="#444" stroke-width="0.8"/>
<text x="369.09999999999997" y="220.2" font-size="7.3" text-anchor="end" fill="#222">100</text>
<text transform="translate(351.5,306) rotate(-90)" font-size="9.3" text-anchor="middle" fill="#222">Atomic ratio (at.%)</text>
<text x="417.5" y="208.2" font-size="8.8" font-weight="bold" fill="#111">Surface</text>
<text x="484.5" y="208.2" font-size="9.0" font-weight="bold" text-anchor="end" fill="#111">Center</text>
<line x1="425" x2="474" y1="215" y2="215" stroke="#111" stroke-width="1"/>
<path d="M478,215 L472,212.8 L472,217.2 Z" fill="#111"/>
<text x="491.5" y="208.2" font-size="8.8" font-weight="bold" fill="#111">Surface</text>
<text x="624" y="208.2" font-size="9.0" font-weight="bold" text-anchor="end" fill="#111">Center</text>
<line x1="494.4" x2="619" y1="215" y2="215" stroke="#111" stroke-width="1"/>
<path d="M623,215 L617,212.8 L617,217.2 Z" fill="#111"/>
<rect x="640.2" y="218.9" width="42.8" height="63.9" fill="#fff" stroke="#444" stroke-width="0.7"/>
<rect x="641.7" y="220.0" width="22.1" height="11.2" fill="url(#gli)"/>
<text x="667.6" y="229.4" font-size="10" fill="#111">Li</text>
<rect x="641.7" y="232.6" width="22.1" height="11.2" fill="url(#gni)"/>
<text x="667.6" y="242.0" font-size="10" fill="#111">Ni</text>
<rect x="641.7" y="245.2" width="22.1" height="11.2" fill="url(#gco)"/>
<text x="667.6" y="254.6" font-size="10" fill="#111">Co</text>
<rect x="641.7" y="257.8" width="22.1" height="11.2" fill="url(#gmn)"/>
<text x="667.6" y="267.2" font-size="10" fill="#111">Mn</text>
<rect x="641.7" y="270.4" width="22.1" height="11.2" fill="url(#go)"/>
<text x="667.6" y="279.8" font-size="10" fill="#111">O</text>
<rect x="342.4" y="401.0" width="286.8" height="24.2" fill="#d9f5b8"/>
<rect x="342.4" y="425.2" width="286.8" height="13.9" fill="#f99a9a"/>
<rect x="342.4" y="401.0" width="286.8" height="38.1" fill="none" stroke="#4a4a4a" stroke-width="0.7"/>
<line x1="342.4" x2="381.4" y1="413.6" y2="413.6" stroke="#4a4a4a" stroke-width="0.6"/>
<line x1="416.8" x2="629.2" y1="413.6" y2="413.6" stroke="#4a4a4a" stroke-width="0.6"/>
<line x1="342.4" x2="629.2" y1="425.2" y2="425.2" stroke="#4a4a4a" stroke-width="0.6"/>
<line x1="381.4" x2="381.4" y1="401.0" y2="439.1" stroke="#4a4a4a" stroke-width="0.6"/>
<line x1="399.1" x2="399.1" y1="401.0" y2="439.1" stroke="#4a4a4a" stroke-width="0.6"/>
<line x1="416.8" x2="416.8" y1="401.0" y2="439.1" stroke="#4a4a4a" stroke-width="0.6"/>
<line x1="434.5" x2="434.5" y1="401.0" y2="425.2" stroke="#4a4a4a" stroke-width="0.6"/>
<line x1="452.2" x2="452.2" y1="401.0" y2="425.2" stroke="#4a4a4a" stroke-width="0.6"/>
<line x1="469.9" x2="469.9" y1="401.0" y2="425.2" stroke="#4a4a4a" stroke-width="0.6"/>
<line x1="487.6" x2="487.6" y1="401.0" y2="439.1" stroke="#4a4a4a" stroke-width="0.6"/>
<line x1="505.3" x2="505.3" y1="401.0" y2="425.2" stroke="#4a4a4a" stroke-width="0.6"/>
<line x1="523.0" x2="523.0" y1="401.0" y2="425.2" stroke="#4a4a4a" stroke-width="0.6"/>
<line x1="540.7" x2="540.7" y1="401.0" y2="425.2" stroke="#4a4a4a" stroke-width="0.6"/>
<line x1="558.4" x2="558.4" y1="401.0" y2="425.2" stroke="#4a4a4a" stroke-width="0.6"/>
<line x1="576.1" x2="576.1" y1="401.0" y2="425.2" stroke="#4a4a4a" stroke-width="0.6"/>
<line x1="593.8" x2="593.8" y1="401.0" y2="425.2" stroke="#4a4a4a" stroke-width="0.6"/>
<line x1="611.5" x2="611.5" y1="401.0" y2="425.2" stroke="#4a4a4a" stroke-width="0.6"/>
<text x="361.9" y="409.5" font-size="5.4" font-weight="bold" text-anchor="middle" fill="#222">Depth (μm)</text>
<text x="361.9" y="421.6" font-size="5.4" font-weight="bold" text-anchor="middle" fill="#222">Region</text>
<text x="361.9" y="434.3" font-size="5.4" font-weight="bold" text-anchor="middle" fill="#222">Cycle number</text>
<text x="390.2" y="415.9" font-size="5.4" font-weight="bold" text-anchor="middle" fill="#222">R</text>
<text x="407.9" y="415.9" font-size="5.4" font-weight="bold" text-anchor="middle" fill="#222">R</text>
<text x="390.2" y="434.3" font-size="5.4" font-weight="bold" text-anchor="middle" fill="#222">P</text>
<text x="407.9" y="434.3" font-size="5.4" font-weight="bold" text-anchor="middle" fill="#222">F</text>
<text x="425.6" y="409.5" font-size="5.4" font-weight="bold" text-anchor="middle" fill="#222">0.1</text>
<text x="425.6" y="421.6" font-size="5.4" font-weight="bold" text-anchor="middle" fill="#222">R1</text>
<text x="443.4" y="409.5" font-size="5.4" font-weight="bold" text-anchor="middle" fill="#222">0.2</text>
<text x="443.4" y="421.6" font-size="5.4" font-weight="bold" text-anchor="middle" fill="#222">R2</text>
<text x="461.0" y="409.5" font-size="5.4" font-weight="bold" text-anchor="middle" fill="#222">0.3</text>
<text x="461.0" y="421.6" font-size="5.4" font-weight="bold" text-anchor="middle" fill="#222">R3</text>
<text x="478.8" y="409.5" font-size="5.4" font-weight="bold" text-anchor="middle" fill="#222">2.0</text>
<text x="478.8" y="421.6" font-size="5.4" font-weight="bold" text-anchor="middle" fill="#222">R4</text>
<text x="496.4" y="409.5" font-size="5.4" font-weight="bold" text-anchor="middle" fill="#222">0</text>
<text x="496.4" y="421.6" font-size="5.4" font-weight="bold" text-anchor="middle" fill="#222">R0</text>
<text x="514.1" y="409.5" font-size="5.4" font-weight="bold" text-anchor="middle" fill="#222">0.03</text>
<text x="514.1" y="421.6" font-size="5.4" font-weight="bold" text-anchor="middle" fill="#222">R1</text>
<text x="531.8" y="409.5" font-size="5.4" font-weight="bold" text-anchor="middle" fill="#222">0.1</text>
<text x="531.8" y="421.6" font-size="5.4" font-weight="bold" text-anchor="middle" fill="#222">R2</text>
<text x="549.5" y="409.5" font-size="5.4" font-weight="bold" text-anchor="middle" fill="#222">0.35</text>
<text x="549.5" y="421.6" font-size="5.4" font-weight="bold" text-anchor="middle" fill="#222">R3</text>
<text x="567.2" y="409.5" font-size="5.4" font-weight="bold" text-anchor="middle" fill="#222">0.7</text>
<text x="567.2" y="421.6" font-size="5.4" font-weight="bold" text-anchor="middle" fill="#222">R4</text>
<text x="584.9" y="409.5" font-size="5.4" font-weight="bold" text-anchor="middle" fill="#222">1.0</text>
<text x="584.9" y="421.6" font-size="5.4" font-weight="bold" text-anchor="middle" fill="#222">R5</text>
<text x="602.6" y="409.5" font-size="5.4" font-weight="bold" text-anchor="middle" fill="#222">1.5</text>
<text x="602.6" y="421.6" font-size="5.4" font-weight="bold" text-anchor="middle" fill="#222">R6</text>
<text x="620.3" y="409.5" font-size="5.4" font-weight="bold" text-anchor="middle" fill="#222">2.0</text>
<text x="620.3" y="421.6" font-size="5.4" font-weight="bold" text-anchor="middle" fill="#222">R7</text>
<text x="452.2" y="434.3" font-size="5.4" font-weight="bold" text-anchor="middle" fill="#222">100 cycles</text>
<text x="558.4" y="434.3" font-size="5.4" font-weight="bold" text-anchor="middle" fill="#222">300 cycles</text>
<text x="487.5" y="455.6" font-size="9.1" font-weight="bold" text-anchor="middle" fill="#111">Depth (μm) and specimen (cycle number)</text>
</svg></body></html>
